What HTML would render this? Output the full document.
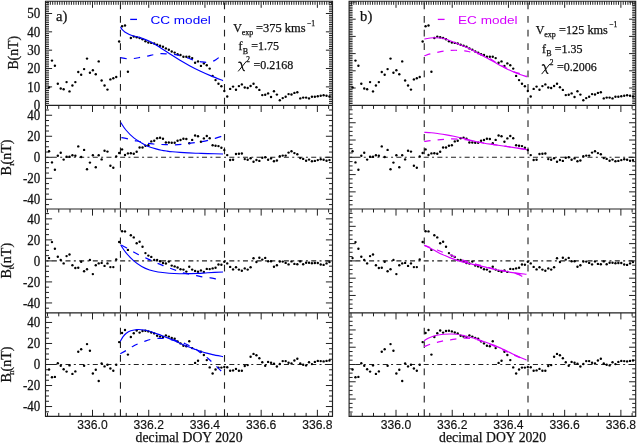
<!DOCTYPE html><html><head><meta charset="utf-8"><title>CC vs EC model</title>
<style>html,body{margin:0;padding:0;background:#fff;}svg{display:block;will-change:transform;}.sf{font-family:"Liberation Serif",serif;stroke:#111;stroke-width:0.25px;}.ss{font-family:"Liberation Sans",sans-serif;}.tk{stroke:#111;stroke-width:0.15px;}</style></head><body>
<svg width="637" height="443" viewBox="0 0 637 443">
<rect width="637" height="443" fill="#fff"/>
<path d="M47.52 105.40L47.52 108.90M58.77 105.40L58.77 108.90M70.01 105.40L70.01 108.90M81.26 105.40L81.26 108.90M92.50 105.40L92.50 112.00M103.74 105.40L103.74 108.90M114.99 105.40L114.99 108.90M126.23 105.40L126.23 108.90M137.48 105.40L137.48 108.90M148.72 105.40L148.72 112.00M159.96 105.40L159.96 108.90M171.21 105.40L171.21 108.90M182.45 105.40L182.45 108.90M193.70 105.40L193.70 108.90M204.94 105.40L204.94 112.00M216.18 105.40L216.18 108.90M227.43 105.40L227.43 108.90M238.67 105.40L238.67 108.90M249.92 105.40L249.92 108.90M261.16 105.40L261.16 112.00M272.40 105.40L272.40 108.90M283.65 105.40L283.65 108.90M294.89 105.40L294.89 108.90M306.14 105.40L306.14 108.90M317.38 105.40L317.38 112.00M328.62 105.40L328.62 108.90M47.52 209.00L47.52 212.50M58.77 209.00L58.77 212.50M70.01 209.00L70.01 212.50M81.26 209.00L81.26 212.50M92.50 209.00L92.50 215.60M103.74 209.00L103.74 212.50M114.99 209.00L114.99 212.50M126.23 209.00L126.23 212.50M137.48 209.00L137.48 212.50M148.72 209.00L148.72 215.60M159.96 209.00L159.96 212.50M171.21 209.00L171.21 212.50M182.45 209.00L182.45 212.50M193.70 209.00L193.70 212.50M204.94 209.00L204.94 215.60M216.18 209.00L216.18 212.50M227.43 209.00L227.43 212.50M238.67 209.00L238.67 212.50M249.92 209.00L249.92 212.50M261.16 209.00L261.16 215.60M272.40 209.00L272.40 212.50M283.65 209.00L283.65 212.50M294.89 209.00L294.89 212.50M306.14 209.00L306.14 212.50M317.38 209.00L317.38 215.60M328.62 209.00L328.62 212.50M47.52 312.85L47.52 316.35M58.77 312.85L58.77 316.35M70.01 312.85L70.01 316.35M81.26 312.85L81.26 316.35M92.50 312.85L92.50 319.45M103.74 312.85L103.74 316.35M114.99 312.85L114.99 316.35M126.23 312.85L126.23 316.35M137.48 312.85L137.48 316.35M148.72 312.85L148.72 319.45M159.96 312.85L159.96 316.35M171.21 312.85L171.21 316.35M182.45 312.85L182.45 316.35M193.70 312.85L193.70 316.35M204.94 312.85L204.94 319.45M216.18 312.85L216.18 316.35M227.43 312.85L227.43 316.35M238.67 312.85L238.67 316.35M249.92 312.85L249.92 316.35M261.16 312.85L261.16 319.45M272.40 312.85L272.40 316.35M283.65 312.85L283.65 316.35M294.89 312.85L294.89 316.35M306.14 312.85L306.14 316.35M317.38 312.85L317.38 319.45M328.62 312.85L328.62 316.35M47.52 416.40L47.52 412.90M58.77 416.40L58.77 412.90M70.01 416.40L70.01 412.90M81.26 416.40L81.26 412.90M92.50 416.40L92.50 409.80M103.74 416.40L103.74 412.90M114.99 416.40L114.99 412.90M126.23 416.40L126.23 412.90M137.48 416.40L137.48 412.90M148.72 416.40L148.72 409.80M159.96 416.40L159.96 412.90M171.21 416.40L171.21 412.90M182.45 416.40L182.45 412.90M193.70 416.40L193.70 412.90M204.94 416.40L204.94 409.80M216.18 416.40L216.18 412.90M227.43 416.40L227.43 412.90M238.67 416.40L238.67 412.90M249.92 416.40L249.92 412.90M261.16 416.40L261.16 409.80M272.40 416.40L272.40 412.90M283.65 416.40L283.65 412.90M294.89 416.40L294.89 412.90M306.14 416.40L306.14 412.90M317.38 416.40L317.38 409.80M328.62 416.40L328.62 412.90M47.99 1.20L47.99 4.80M50.34 1.20L50.34 4.80M52.68 1.20L52.68 4.80M55.02 1.20L55.02 4.80M57.36 1.20L57.36 4.80M59.70 1.20L59.70 4.80M62.05 1.20L62.05 4.80M64.39 1.20L64.39 4.80M66.73 1.20L66.73 4.80M69.08 1.20L69.08 4.80M71.42 1.20L71.42 4.80M73.76 1.20L73.76 4.80M76.10 1.20L76.10 4.80M78.44 1.20L78.44 4.80M80.79 1.20L80.79 4.80M83.13 1.20L83.13 4.80M85.47 1.20L85.47 4.80M87.82 1.20L87.82 4.80M90.16 1.20L90.16 4.80M92.50 1.20L92.50 7.80M94.84 1.20L94.84 4.80M97.18 1.20L97.18 4.80M99.53 1.20L99.53 4.80M101.87 1.20L101.87 4.80M104.21 1.20L104.21 4.80M106.56 1.20L106.56 4.80M108.90 1.20L108.90 4.80M111.24 1.20L111.24 4.80M113.58 1.20L113.58 4.80M115.92 1.20L115.92 4.80M118.27 1.20L118.27 4.80M120.61 1.20L120.61 4.80M122.95 1.20L122.95 4.80M125.30 1.20L125.30 4.80M127.64 1.20L127.64 4.80M129.98 1.20L129.98 4.80M132.32 1.20L132.32 4.80M134.66 1.20L134.66 4.80M137.01 1.20L137.01 4.80M139.35 1.20L139.35 4.80M141.69 1.20L141.69 4.80M144.04 1.20L144.04 4.80M146.38 1.20L146.38 4.80M148.72 1.20L148.72 7.80M151.06 1.20L151.06 4.80M153.40 1.20L153.40 4.80M155.75 1.20L155.75 4.80M158.09 1.20L158.09 4.80M160.43 1.20L160.43 4.80M162.78 1.20L162.78 4.80M165.12 1.20L165.12 4.80M167.46 1.20L167.46 4.80M169.80 1.20L169.80 4.80M172.15 1.20L172.15 4.80M174.49 1.20L174.49 4.80M176.83 1.20L176.83 4.80M179.17 1.20L179.17 4.80M181.51 1.20L181.51 4.80M183.86 1.20L183.86 4.80M186.20 1.20L186.20 4.80M188.54 1.20L188.54 4.80M190.89 1.20L190.89 4.80M193.23 1.20L193.23 4.80M195.57 1.20L195.57 4.80M197.91 1.20L197.91 4.80M200.25 1.20L200.25 4.80M202.60 1.20L202.60 4.80M204.94 1.20L204.94 7.80M207.28 1.20L207.28 4.80M209.63 1.20L209.63 4.80M211.97 1.20L211.97 4.80M214.31 1.20L214.31 4.80M216.65 1.20L216.65 4.80M218.99 1.20L218.99 4.80M221.34 1.20L221.34 4.80M223.68 1.20L223.68 4.80M226.02 1.20L226.02 4.80M228.37 1.20L228.37 4.80M230.71 1.20L230.71 4.80M233.05 1.20L233.05 4.80M235.39 1.20L235.39 4.80M237.73 1.20L237.73 4.80M240.08 1.20L240.08 4.80M242.42 1.20L242.42 4.80M244.76 1.20L244.76 4.80M247.11 1.20L247.11 4.80M249.45 1.20L249.45 4.80M251.79 1.20L251.79 4.80M254.13 1.20L254.13 4.80M256.47 1.20L256.47 4.80M258.82 1.20L258.82 4.80M261.16 1.20L261.16 7.80M263.50 1.20L263.50 4.80M265.85 1.20L265.85 4.80M268.19 1.20L268.19 4.80M270.53 1.20L270.53 4.80M272.87 1.20L272.87 4.80M275.21 1.20L275.21 4.80M277.56 1.20L277.56 4.80M279.90 1.20L279.90 4.80M282.24 1.20L282.24 4.80M284.59 1.20L284.59 4.80M286.93 1.20L286.93 4.80M289.27 1.20L289.27 4.80M291.61 1.20L291.61 4.80M293.95 1.20L293.95 4.80M296.30 1.20L296.30 4.80M298.64 1.20L298.64 4.80M300.98 1.20L300.98 4.80M303.33 1.20L303.33 4.80M305.67 1.20L305.67 4.80M308.01 1.20L308.01 4.80M310.35 1.20L310.35 4.80M312.70 1.20L312.70 4.80M315.04 1.20L315.04 4.80M317.38 1.20L317.38 7.80M319.72 1.20L319.72 4.80M322.06 1.20L322.06 4.80M324.41 1.20L324.41 4.80M326.75 1.20L326.75 4.80M329.09 1.20L329.09 4.80M331.44 1.20L331.44 4.80M45.50 103.37L49.00 103.37M332.50 103.37L329.00 103.37M45.50 101.53L49.00 101.53M332.50 101.53L329.00 101.53M45.50 99.70L49.00 99.70M332.50 99.70L329.00 99.70M45.50 97.86L49.00 97.86M332.50 97.86L329.00 97.86M45.50 96.03L49.00 96.03M332.50 96.03L329.00 96.03M45.50 94.20L49.00 94.20M332.50 94.20L329.00 94.20M45.50 92.36L49.00 92.36M332.50 92.36L329.00 92.36M45.50 90.53L49.00 90.53M332.50 90.53L329.00 90.53M45.50 88.69L49.00 88.69M332.50 88.69L329.00 88.69M45.50 86.86L52.10 86.86M332.50 86.86L325.90 86.86M45.50 85.03L49.00 85.03M332.50 85.03L329.00 85.03M45.50 83.19L49.00 83.19M332.50 83.19L329.00 83.19M45.50 81.36L49.00 81.36M332.50 81.36L329.00 81.36M45.50 79.52L49.00 79.52M332.50 79.52L329.00 79.52M45.50 77.69L49.00 77.69M332.50 77.69L329.00 77.69M45.50 75.86L49.00 75.86M332.50 75.86L329.00 75.86M45.50 74.02L49.00 74.02M332.50 74.02L329.00 74.02M45.50 72.19L49.00 72.19M332.50 72.19L329.00 72.19M45.50 70.35L49.00 70.35M332.50 70.35L329.00 70.35M45.50 68.52L52.10 68.52M332.50 68.52L325.90 68.52M45.50 66.69L49.00 66.69M332.50 66.69L329.00 66.69M45.50 64.85L49.00 64.85M332.50 64.85L329.00 64.85M45.50 63.02L49.00 63.02M332.50 63.02L329.00 63.02M45.50 61.18L49.00 61.18M332.50 61.18L329.00 61.18M45.50 59.35L49.00 59.35M332.50 59.35L329.00 59.35M45.50 57.52L49.00 57.52M332.50 57.52L329.00 57.52M45.50 55.68L49.00 55.68M332.50 55.68L329.00 55.68M45.50 53.85L49.00 53.85M332.50 53.85L329.00 53.85M45.50 52.01L49.00 52.01M332.50 52.01L329.00 52.01M45.50 50.18L52.10 50.18M332.50 50.18L325.90 50.18M45.50 48.35L49.00 48.35M332.50 48.35L329.00 48.35M45.50 46.51L49.00 46.51M332.50 46.51L329.00 46.51M45.50 44.68L49.00 44.68M332.50 44.68L329.00 44.68M45.50 42.84L49.00 42.84M332.50 42.84L329.00 42.84M45.50 41.01L49.00 41.01M332.50 41.01L329.00 41.01M45.50 39.18L49.00 39.18M332.50 39.18L329.00 39.18M45.50 37.34L49.00 37.34M332.50 37.34L329.00 37.34M45.50 35.51L49.00 35.51M332.50 35.51L329.00 35.51M45.50 33.67L49.00 33.67M332.50 33.67L329.00 33.67M45.50 31.84L52.10 31.84M332.50 31.84L325.90 31.84M45.50 30.01L49.00 30.01M332.50 30.01L329.00 30.01M45.50 28.17L49.00 28.17M332.50 28.17L329.00 28.17M45.50 26.34L49.00 26.34M332.50 26.34L329.00 26.34M45.50 24.50L49.00 24.50M332.50 24.50L329.00 24.50M45.50 22.67L49.00 22.67M332.50 22.67L329.00 22.67M45.50 20.84L49.00 20.84M332.50 20.84L329.00 20.84M45.50 19.00L49.00 19.00M332.50 19.00L329.00 19.00M45.50 17.17L49.00 17.17M332.50 17.17L329.00 17.17M45.50 15.33L49.00 15.33M332.50 15.33L329.00 15.33M45.50 13.50L52.10 13.50M332.50 13.50L325.90 13.50M45.50 11.67L49.00 11.67M332.50 11.67L329.00 11.67M45.50 9.83L49.00 9.83M332.50 9.83L329.00 9.83M45.50 8.00L49.00 8.00M332.50 8.00L329.00 8.00M45.50 6.16L49.00 6.16M332.50 6.16L329.00 6.16M45.50 4.33L49.00 4.33M332.50 4.33L329.00 4.33M45.50 2.50L49.00 2.50M332.50 2.50L329.00 2.50M45.50 204.59L49.00 204.59M332.50 204.59L329.00 204.59M45.50 199.34L52.10 199.34M332.50 199.34L325.90 199.34M45.50 194.09L49.00 194.09M332.50 194.09L329.00 194.09M45.50 188.83L49.00 188.83M332.50 188.83L329.00 188.83M45.50 183.58L49.00 183.58M332.50 183.58L329.00 183.58M45.50 178.32L52.10 178.32M332.50 178.32L325.90 178.32M45.50 173.06L49.00 173.06M332.50 173.06L329.00 173.06M45.50 167.81L49.00 167.81M332.50 167.81L329.00 167.81M45.50 162.56L49.00 162.56M332.50 162.56L329.00 162.56M45.50 157.30L52.10 157.30M332.50 157.30L325.90 157.30M45.50 152.05L49.00 152.05M332.50 152.05L329.00 152.05M45.50 146.79L49.00 146.79M332.50 146.79L329.00 146.79M45.50 141.54L49.00 141.54M332.50 141.54L329.00 141.54M45.50 136.28L52.10 136.28M332.50 136.28L325.90 136.28M45.50 131.03L49.00 131.03M332.50 131.03L329.00 131.03M45.50 125.77L49.00 125.77M332.50 125.77L329.00 125.77M45.50 120.52L49.00 120.52M332.50 120.52L329.00 120.52M45.50 115.26L52.10 115.26M332.50 115.26L325.90 115.26M45.50 110.01L49.00 110.01M332.50 110.01L329.00 110.01M45.50 308.19L49.00 308.19M332.50 308.19L329.00 308.19M45.50 302.94L52.10 302.94M332.50 302.94L325.90 302.94M45.50 297.68L49.00 297.68M332.50 297.68L329.00 297.68M45.50 292.43L49.00 292.43M332.50 292.43L329.00 292.43M45.50 287.17L49.00 287.17M332.50 287.17L329.00 287.17M45.50 281.92L52.10 281.92M332.50 281.92L325.90 281.92M45.50 276.66L49.00 276.66M332.50 276.66L329.00 276.66M45.50 271.41L49.00 271.41M332.50 271.41L329.00 271.41M45.50 266.15L49.00 266.15M332.50 266.15L329.00 266.15M45.50 260.90L52.10 260.90M332.50 260.90L325.90 260.90M45.50 255.64L49.00 255.64M332.50 255.64L329.00 255.64M45.50 250.39L49.00 250.39M332.50 250.39L329.00 250.39M45.50 245.13L49.00 245.13M332.50 245.13L329.00 245.13M45.50 239.88L52.10 239.88M332.50 239.88L325.90 239.88M45.50 234.62L49.00 234.62M332.50 234.62L329.00 234.62M45.50 229.37L49.00 229.37M332.50 229.37L329.00 229.37M45.50 224.11L49.00 224.11M332.50 224.11L329.00 224.11M45.50 218.86L52.10 218.86M332.50 218.86L325.90 218.86M45.50 213.60L49.00 213.60M332.50 213.60L329.00 213.60M45.50 411.80L49.00 411.80M332.50 411.80L329.00 411.80M45.50 406.54L52.10 406.54M332.50 406.54L325.90 406.54M45.50 401.28L49.00 401.28M332.50 401.28L329.00 401.28M45.50 396.03L49.00 396.03M332.50 396.03L329.00 396.03M45.50 390.77L49.00 390.77M332.50 390.77L329.00 390.77M45.50 385.52L52.10 385.52M332.50 385.52L325.90 385.52M45.50 380.26L49.00 380.26M332.50 380.26L329.00 380.26M45.50 375.01L49.00 375.01M332.50 375.01L329.00 375.01M45.50 369.75L49.00 369.75M332.50 369.75L329.00 369.75M45.50 364.50L52.10 364.50M332.50 364.50L325.90 364.50M45.50 359.25L49.00 359.25M332.50 359.25L329.00 359.25M45.50 353.99L49.00 353.99M332.50 353.99L329.00 353.99M45.50 348.74L49.00 348.74M332.50 348.74L329.00 348.74M45.50 343.48L52.10 343.48M332.50 343.48L325.90 343.48M45.50 338.23L49.00 338.23M332.50 338.23L329.00 338.23M45.50 332.97L49.00 332.97M332.50 332.97L329.00 332.97M45.50 327.72L49.00 327.72M332.50 327.72L329.00 327.72M45.50 322.46L52.10 322.46M332.50 322.46L325.90 322.46M45.50 317.20L49.00 317.20M332.50 317.20L329.00 317.20" stroke="#222" stroke-width="1.00" fill="none"/>
<path d="M45.50 1.20H332.50V416.40H45.50ZM45.50 105.40H332.50M45.50 209.00H332.50M45.50 312.85H332.50" stroke="#222" stroke-width="1.15" fill="none"/>
<text class="sf" transform="translate(40.2 91.56) scale(1 1.06)" font-size="13" text-anchor="end" fill="#111">10</text>
<text class="sf" transform="translate(40.2 73.22) scale(1 1.06)" font-size="13" text-anchor="end" fill="#111">20</text>
<text class="sf" transform="translate(40.2 54.88) scale(1 1.06)" font-size="13" text-anchor="end" fill="#111">30</text>
<text class="sf" transform="translate(40.2 36.54) scale(1 1.06)" font-size="13" text-anchor="end" fill="#111">40</text>
<text class="sf" transform="translate(40.2 18.20) scale(1 1.06)" font-size="13" text-anchor="end" fill="#111">50</text>
<text class="sf" transform="translate(40.2 109.90) scale(1 1.06)" font-size="13" text-anchor="end" fill="#111">0</text>
<text class="sf" transform="translate(40.2 204.04) scale(1 1.06)" font-size="13" text-anchor="end" fill="#111">-40</text>
<text class="sf" transform="translate(40.2 183.02) scale(1 1.06)" font-size="13" text-anchor="end" fill="#111">-20</text>
<text class="sf" transform="translate(40.2 162.00) scale(1 1.06)" font-size="13" text-anchor="end" fill="#111">0</text>
<text class="sf" transform="translate(40.2 140.98) scale(1 1.06)" font-size="13" text-anchor="end" fill="#111">20</text>
<text class="sf" transform="translate(40.2 119.96) scale(1 1.06)" font-size="13" text-anchor="end" fill="#111">40</text>
<text class="sf" transform="translate(40.2 307.64) scale(1 1.06)" font-size="13" text-anchor="end" fill="#111">-40</text>
<text class="sf" transform="translate(40.2 286.62) scale(1 1.06)" font-size="13" text-anchor="end" fill="#111">-20</text>
<text class="sf" transform="translate(40.2 265.60) scale(1 1.06)" font-size="13" text-anchor="end" fill="#111">0</text>
<text class="sf" transform="translate(40.2 244.58) scale(1 1.06)" font-size="13" text-anchor="end" fill="#111">20</text>
<text class="sf" transform="translate(40.2 223.56) scale(1 1.06)" font-size="13" text-anchor="end" fill="#111">40</text>
<text class="sf" transform="translate(40.2 411.24) scale(1 1.06)" font-size="13" text-anchor="end" fill="#111">-40</text>
<text class="sf" transform="translate(40.2 390.22) scale(1 1.06)" font-size="13" text-anchor="end" fill="#111">-20</text>
<text class="sf" transform="translate(40.2 369.20) scale(1 1.06)" font-size="13" text-anchor="end" fill="#111">0</text>
<text class="sf" transform="translate(40.2 348.18) scale(1 1.06)" font-size="13" text-anchor="end" fill="#111">20</text>
<text class="sf" transform="translate(40.2 327.16) scale(1 1.06)" font-size="13" text-anchor="end" fill="#111">40</text>
<path d="M351.02 105.40L351.02 108.90M362.27 105.40L362.27 108.90M373.51 105.40L373.51 108.90M384.76 105.40L384.76 108.90M396.00 105.40L396.00 112.00M407.24 105.40L407.24 108.90M418.49 105.40L418.49 108.90M429.73 105.40L429.73 108.90M440.98 105.40L440.98 108.90M452.22 105.40L452.22 112.00M463.46 105.40L463.46 108.90M474.71 105.40L474.71 108.90M485.95 105.40L485.95 108.90M497.20 105.40L497.20 108.90M508.44 105.40L508.44 112.00M519.68 105.40L519.68 108.90M530.93 105.40L530.93 108.90M542.17 105.40L542.17 108.90M553.42 105.40L553.42 108.90M564.66 105.40L564.66 112.00M575.90 105.40L575.90 108.90M587.15 105.40L587.15 108.90M598.39 105.40L598.39 108.90M609.64 105.40L609.64 108.90M620.88 105.40L620.88 112.00M632.12 105.40L632.12 108.90M351.02 209.00L351.02 212.50M362.27 209.00L362.27 212.50M373.51 209.00L373.51 212.50M384.76 209.00L384.76 212.50M396.00 209.00L396.00 215.60M407.24 209.00L407.24 212.50M418.49 209.00L418.49 212.50M429.73 209.00L429.73 212.50M440.98 209.00L440.98 212.50M452.22 209.00L452.22 215.60M463.46 209.00L463.46 212.50M474.71 209.00L474.71 212.50M485.95 209.00L485.95 212.50M497.20 209.00L497.20 212.50M508.44 209.00L508.44 215.60M519.68 209.00L519.68 212.50M530.93 209.00L530.93 212.50M542.17 209.00L542.17 212.50M553.42 209.00L553.42 212.50M564.66 209.00L564.66 215.60M575.90 209.00L575.90 212.50M587.15 209.00L587.15 212.50M598.39 209.00L598.39 212.50M609.64 209.00L609.64 212.50M620.88 209.00L620.88 215.60M632.12 209.00L632.12 212.50M351.02 312.85L351.02 316.35M362.27 312.85L362.27 316.35M373.51 312.85L373.51 316.35M384.76 312.85L384.76 316.35M396.00 312.85L396.00 319.45M407.24 312.85L407.24 316.35M418.49 312.85L418.49 316.35M429.73 312.85L429.73 316.35M440.98 312.85L440.98 316.35M452.22 312.85L452.22 319.45M463.46 312.85L463.46 316.35M474.71 312.85L474.71 316.35M485.95 312.85L485.95 316.35M497.20 312.85L497.20 316.35M508.44 312.85L508.44 319.45M519.68 312.85L519.68 316.35M530.93 312.85L530.93 316.35M542.17 312.85L542.17 316.35M553.42 312.85L553.42 316.35M564.66 312.85L564.66 319.45M575.90 312.85L575.90 316.35M587.15 312.85L587.15 316.35M598.39 312.85L598.39 316.35M609.64 312.85L609.64 316.35M620.88 312.85L620.88 319.45M632.12 312.85L632.12 316.35M351.02 416.40L351.02 412.90M362.27 416.40L362.27 412.90M373.51 416.40L373.51 412.90M384.76 416.40L384.76 412.90M396.00 416.40L396.00 409.80M407.24 416.40L407.24 412.90M418.49 416.40L418.49 412.90M429.73 416.40L429.73 412.90M440.98 416.40L440.98 412.90M452.22 416.40L452.22 409.80M463.46 416.40L463.46 412.90M474.71 416.40L474.71 412.90M485.95 416.40L485.95 412.90M497.20 416.40L497.20 412.90M508.44 416.40L508.44 409.80M519.68 416.40L519.68 412.90M530.93 416.40L530.93 412.90M542.17 416.40L542.17 412.90M553.42 416.40L553.42 412.90M564.66 416.40L564.66 409.80M575.90 416.40L575.90 412.90M587.15 416.40L587.15 412.90M598.39 416.40L598.39 412.90M609.64 416.40L609.64 412.90M620.88 416.40L620.88 409.80M632.12 416.40L632.12 412.90M351.49 1.20L351.49 4.80M353.84 1.20L353.84 4.80M356.18 1.20L356.18 4.80M358.52 1.20L358.52 4.80M360.86 1.20L360.86 4.80M363.20 1.20L363.20 4.80M365.55 1.20L365.55 4.80M367.89 1.20L367.89 4.80M370.23 1.20L370.23 4.80M372.58 1.20L372.58 4.80M374.92 1.20L374.92 4.80M377.26 1.20L377.26 4.80M379.60 1.20L379.60 4.80M381.94 1.20L381.94 4.80M384.29 1.20L384.29 4.80M386.63 1.20L386.63 4.80M388.97 1.20L388.97 4.80M391.32 1.20L391.32 4.80M393.66 1.20L393.66 4.80M396.00 1.20L396.00 7.80M398.34 1.20L398.34 4.80M400.68 1.20L400.68 4.80M403.03 1.20L403.03 4.80M405.37 1.20L405.37 4.80M407.71 1.20L407.71 4.80M410.06 1.20L410.06 4.80M412.40 1.20L412.40 4.80M414.74 1.20L414.74 4.80M417.08 1.20L417.08 4.80M419.42 1.20L419.42 4.80M421.77 1.20L421.77 4.80M424.11 1.20L424.11 4.80M426.45 1.20L426.45 4.80M428.80 1.20L428.80 4.80M431.14 1.20L431.14 4.80M433.48 1.20L433.48 4.80M435.82 1.20L435.82 4.80M438.16 1.20L438.16 4.80M440.51 1.20L440.51 4.80M442.85 1.20L442.85 4.80M445.19 1.20L445.19 4.80M447.54 1.20L447.54 4.80M449.88 1.20L449.88 4.80M452.22 1.20L452.22 7.80M454.56 1.20L454.56 4.80M456.90 1.20L456.90 4.80M459.25 1.20L459.25 4.80M461.59 1.20L461.59 4.80M463.93 1.20L463.93 4.80M466.27 1.20L466.27 4.80M468.62 1.20L468.62 4.80M470.96 1.20L470.96 4.80M473.30 1.20L473.30 4.80M475.65 1.20L475.65 4.80M477.99 1.20L477.99 4.80M480.33 1.20L480.33 4.80M482.67 1.20L482.67 4.80M485.01 1.20L485.01 4.80M487.36 1.20L487.36 4.80M489.70 1.20L489.70 4.80M492.04 1.20L492.04 4.80M494.39 1.20L494.39 4.80M496.73 1.20L496.73 4.80M499.07 1.20L499.07 4.80M501.41 1.20L501.41 4.80M503.75 1.20L503.75 4.80M506.10 1.20L506.10 4.80M508.44 1.20L508.44 7.80M510.78 1.20L510.78 4.80M513.13 1.20L513.13 4.80M515.47 1.20L515.47 4.80M517.81 1.20L517.81 4.80M520.15 1.20L520.15 4.80M522.49 1.20L522.49 4.80M524.84 1.20L524.84 4.80M527.18 1.20L527.18 4.80M529.52 1.20L529.52 4.80M531.87 1.20L531.87 4.80M534.21 1.20L534.21 4.80M536.55 1.20L536.55 4.80M538.89 1.20L538.89 4.80M541.23 1.20L541.23 4.80M543.58 1.20L543.58 4.80M545.92 1.20L545.92 4.80M548.26 1.20L548.26 4.80M550.61 1.20L550.61 4.80M552.95 1.20L552.95 4.80M555.29 1.20L555.29 4.80M557.63 1.20L557.63 4.80M559.97 1.20L559.97 4.80M562.32 1.20L562.32 4.80M564.66 1.20L564.66 7.80M567.00 1.20L567.00 4.80M569.35 1.20L569.35 4.80M571.69 1.20L571.69 4.80M574.03 1.20L574.03 4.80M576.37 1.20L576.37 4.80M578.71 1.20L578.71 4.80M581.06 1.20L581.06 4.80M583.40 1.20L583.40 4.80M585.74 1.20L585.74 4.80M588.09 1.20L588.09 4.80M590.43 1.20L590.43 4.80M592.77 1.20L592.77 4.80M595.11 1.20L595.11 4.80M597.45 1.20L597.45 4.80M599.80 1.20L599.80 4.80M602.14 1.20L602.14 4.80M604.48 1.20L604.48 4.80M606.83 1.20L606.83 4.80M609.17 1.20L609.17 4.80M611.51 1.20L611.51 4.80M613.85 1.20L613.85 4.80M616.20 1.20L616.20 4.80M618.54 1.20L618.54 4.80M620.88 1.20L620.88 7.80M623.22 1.20L623.22 4.80M625.56 1.20L625.56 4.80M627.91 1.20L627.91 4.80M630.25 1.20L630.25 4.80M632.59 1.20L632.59 4.80M634.94 1.20L634.94 4.80M349.10 103.48L352.60 103.48M635.70 103.48L632.20 103.48M349.10 101.76L352.60 101.76M635.70 101.76L632.20 101.76M349.10 100.04L352.60 100.04M635.70 100.04L632.20 100.04M349.10 98.32L352.60 98.32M635.70 98.32L632.20 98.32M349.10 96.60L352.60 96.60M635.70 96.60L632.20 96.60M349.10 94.88L352.60 94.88M635.70 94.88L632.20 94.88M349.10 93.16L352.60 93.16M635.70 93.16L632.20 93.16M349.10 91.44L352.60 91.44M635.70 91.44L632.20 91.44M349.10 89.72L352.60 89.72M635.70 89.72L632.20 89.72M349.10 88.00L355.70 88.00M635.70 88.00L629.10 88.00M349.10 86.28L352.60 86.28M635.70 86.28L632.20 86.28M349.10 84.56L352.60 84.56M635.70 84.56L632.20 84.56M349.10 82.84L352.60 82.84M635.70 82.84L632.20 82.84M349.10 81.12L352.60 81.12M635.70 81.12L632.20 81.12M349.10 79.40L352.60 79.40M635.70 79.40L632.20 79.40M349.10 77.68L352.60 77.68M635.70 77.68L632.20 77.68M349.10 75.96L352.60 75.96M635.70 75.96L632.20 75.96M349.10 74.24L352.60 74.24M635.70 74.24L632.20 74.24M349.10 72.52L352.60 72.52M635.70 72.52L632.20 72.52M349.10 70.80L355.70 70.80M635.70 70.80L629.10 70.80M349.10 69.08L352.60 69.08M635.70 69.08L632.20 69.08M349.10 67.36L352.60 67.36M635.70 67.36L632.20 67.36M349.10 65.64L352.60 65.64M635.70 65.64L632.20 65.64M349.10 63.92L352.60 63.92M635.70 63.92L632.20 63.92M349.10 62.20L352.60 62.20M635.70 62.20L632.20 62.20M349.10 60.48L352.60 60.48M635.70 60.48L632.20 60.48M349.10 58.76L352.60 58.76M635.70 58.76L632.20 58.76M349.10 57.04L352.60 57.04M635.70 57.04L632.20 57.04M349.10 55.32L352.60 55.32M635.70 55.32L632.20 55.32M349.10 53.60L355.70 53.60M635.70 53.60L629.10 53.60M349.10 51.88L352.60 51.88M635.70 51.88L632.20 51.88M349.10 50.16L352.60 50.16M635.70 50.16L632.20 50.16M349.10 48.44L352.60 48.44M635.70 48.44L632.20 48.44M349.10 46.72L352.60 46.72M635.70 46.72L632.20 46.72M349.10 45.00L352.60 45.00M635.70 45.00L632.20 45.00M349.10 43.28L352.60 43.28M635.70 43.28L632.20 43.28M349.10 41.56L352.60 41.56M635.70 41.56L632.20 41.56M349.10 39.84L352.60 39.84M635.70 39.84L632.20 39.84M349.10 38.12L352.60 38.12M635.70 38.12L632.20 38.12M349.10 36.40L355.70 36.40M635.70 36.40L629.10 36.40M349.10 34.68L352.60 34.68M635.70 34.68L632.20 34.68M349.10 32.96L352.60 32.96M635.70 32.96L632.20 32.96M349.10 31.24L352.60 31.24M635.70 31.24L632.20 31.24M349.10 29.52L352.60 29.52M635.70 29.52L632.20 29.52M349.10 27.80L352.60 27.80M635.70 27.80L632.20 27.80M349.10 26.08L352.60 26.08M635.70 26.08L632.20 26.08M349.10 24.36L352.60 24.36M635.70 24.36L632.20 24.36M349.10 22.64L352.60 22.64M635.70 22.64L632.20 22.64M349.10 20.92L352.60 20.92M635.70 20.92L632.20 20.92M349.10 19.20L355.70 19.20M635.70 19.20L629.10 19.20M349.10 17.48L352.60 17.48M635.70 17.48L632.20 17.48M349.10 15.76L352.60 15.76M635.70 15.76L632.20 15.76M349.10 14.04L352.60 14.04M635.70 14.04L632.20 14.04M349.10 12.32L352.60 12.32M635.70 12.32L632.20 12.32M349.10 10.60L352.60 10.60M635.70 10.60L632.20 10.60M349.10 8.88L352.60 8.88M635.70 8.88L632.20 8.88M349.10 7.16L352.60 7.16M635.70 7.16L632.20 7.16M349.10 5.44L352.60 5.44M635.70 5.44L632.20 5.44M349.10 3.72L352.60 3.72M635.70 3.72L632.20 3.72M349.10 2.00L355.70 2.00M635.70 2.00L629.10 2.00M349.10 204.82L352.60 204.82M635.70 204.82L632.20 204.82M349.10 200.50L352.60 200.50M635.70 200.50L632.20 200.50M349.10 196.18L352.60 196.18M635.70 196.18L632.20 196.18M349.10 191.86L355.70 191.86M635.70 191.86L629.10 191.86M349.10 187.54L352.60 187.54M635.70 187.54L632.20 187.54M349.10 183.22L352.60 183.22M635.70 183.22L632.20 183.22M349.10 178.90L352.60 178.90M635.70 178.90L632.20 178.90M349.10 174.58L355.70 174.58M635.70 174.58L629.10 174.58M349.10 170.26L352.60 170.26M635.70 170.26L632.20 170.26M349.10 165.94L352.60 165.94M635.70 165.94L632.20 165.94M349.10 161.62L352.60 161.62M635.70 161.62L632.20 161.62M349.10 157.30L355.70 157.30M635.70 157.30L629.10 157.30M349.10 152.98L352.60 152.98M635.70 152.98L632.20 152.98M349.10 148.66L352.60 148.66M635.70 148.66L632.20 148.66M349.10 144.34L352.60 144.34M635.70 144.34L632.20 144.34M349.10 140.02L355.70 140.02M635.70 140.02L629.10 140.02M349.10 135.70L352.60 135.70M635.70 135.70L632.20 135.70M349.10 131.38L352.60 131.38M635.70 131.38L632.20 131.38M349.10 127.06L352.60 127.06M635.70 127.06L632.20 127.06M349.10 122.74L355.70 122.74M635.70 122.74L629.10 122.74M349.10 118.42L352.60 118.42M635.70 118.42L632.20 118.42M349.10 114.10L352.60 114.10M635.70 114.10L632.20 114.10M349.10 109.78L352.60 109.78M635.70 109.78L632.20 109.78M349.10 308.42L352.60 308.42M635.70 308.42L632.20 308.42M349.10 304.10L352.60 304.10M635.70 304.10L632.20 304.10M349.10 299.78L352.60 299.78M635.70 299.78L632.20 299.78M349.10 295.46L355.70 295.46M635.70 295.46L629.10 295.46M349.10 291.14L352.60 291.14M635.70 291.14L632.20 291.14M349.10 286.82L352.60 286.82M635.70 286.82L632.20 286.82M349.10 282.50L352.60 282.50M635.70 282.50L632.20 282.50M349.10 278.18L355.70 278.18M635.70 278.18L629.10 278.18M349.10 273.86L352.60 273.86M635.70 273.86L632.20 273.86M349.10 269.54L352.60 269.54M635.70 269.54L632.20 269.54M349.10 265.22L352.60 265.22M635.70 265.22L632.20 265.22M349.10 260.90L355.70 260.90M635.70 260.90L629.10 260.90M349.10 256.58L352.60 256.58M635.70 256.58L632.20 256.58M349.10 252.26L352.60 252.26M635.70 252.26L632.20 252.26M349.10 247.94L352.60 247.94M635.70 247.94L632.20 247.94M349.10 243.62L355.70 243.62M635.70 243.62L629.10 243.62M349.10 239.30L352.60 239.30M635.70 239.30L632.20 239.30M349.10 234.98L352.60 234.98M635.70 234.98L632.20 234.98M349.10 230.66L352.60 230.66M635.70 230.66L632.20 230.66M349.10 226.34L355.70 226.34M635.70 226.34L629.10 226.34M349.10 222.02L352.60 222.02M635.70 222.02L632.20 222.02M349.10 217.70L352.60 217.70M635.70 217.70L632.20 217.70M349.10 213.38L352.60 213.38M635.70 213.38L632.20 213.38M349.10 412.02L352.60 412.02M635.70 412.02L632.20 412.02M349.10 407.70L352.60 407.70M635.70 407.70L632.20 407.70M349.10 403.38L352.60 403.38M635.70 403.38L632.20 403.38M349.10 399.06L355.70 399.06M635.70 399.06L629.10 399.06M349.10 394.74L352.60 394.74M635.70 394.74L632.20 394.74M349.10 390.42L352.60 390.42M635.70 390.42L632.20 390.42M349.10 386.10L352.60 386.10M635.70 386.10L632.20 386.10M349.10 381.78L355.70 381.78M635.70 381.78L629.10 381.78M349.10 377.46L352.60 377.46M635.70 377.46L632.20 377.46M349.10 373.14L352.60 373.14M635.70 373.14L632.20 373.14M349.10 368.82L352.60 368.82M635.70 368.82L632.20 368.82M349.10 364.50L355.70 364.50M635.70 364.50L629.10 364.50M349.10 360.18L352.60 360.18M635.70 360.18L632.20 360.18M349.10 355.86L352.60 355.86M635.70 355.86L632.20 355.86M349.10 351.54L352.60 351.54M635.70 351.54L632.20 351.54M349.10 347.22L355.70 347.22M635.70 347.22L629.10 347.22M349.10 342.90L352.60 342.90M635.70 342.90L632.20 342.90M349.10 338.58L352.60 338.58M635.70 338.58L632.20 338.58M349.10 334.26L352.60 334.26M635.70 334.26L632.20 334.26M349.10 329.94L355.70 329.94M635.70 329.94L629.10 329.94M349.10 325.62L352.60 325.62M635.70 325.62L632.20 325.62M349.10 321.30L352.60 321.30M635.70 321.30L632.20 321.30M349.10 316.98L352.60 316.98M635.70 316.98L632.20 316.98" stroke="#222" stroke-width="1.00" fill="none"/>
<path d="M349.10 1.20H635.70V416.40H349.10ZM349.10 105.40H635.70M349.10 209.00H635.70M349.10 312.85H635.70" stroke="#222" stroke-width="1.15" fill="none"/>
<line x1="45.50" y1="157.30" x2="332.50" y2="157.30" stroke="#222" stroke-width="1.1" stroke-dasharray="5 3.33 2 3.32" stroke-dashoffset="7.3"/>
<line x1="45.50" y1="260.90" x2="332.50" y2="260.90" stroke="#222" stroke-width="1.1" stroke-dasharray="5 3.33 2 3.32" stroke-dashoffset="7.3"/>
<line x1="45.50" y1="364.50" x2="332.50" y2="364.50" stroke="#222" stroke-width="1.1" stroke-dasharray="5 3.33 2 3.32" stroke-dashoffset="7.3"/>
<line x1="120.45" y1="1.20" x2="120.45" y2="105.40" stroke="#222" stroke-width="1.1" stroke-dasharray="6.7 6.9" stroke-dashoffset="-1.3"/>
<line x1="120.45" y1="105.40" x2="120.45" y2="209.00" stroke="#222" stroke-width="1.1" stroke-dasharray="6.7 6.9" stroke-dashoffset="-1.3"/>
<line x1="120.45" y1="209.00" x2="120.45" y2="312.85" stroke="#222" stroke-width="1.1" stroke-dasharray="6.7 6.9" stroke-dashoffset="-1.3"/>
<line x1="120.45" y1="312.85" x2="120.45" y2="416.40" stroke="#222" stroke-width="1.1" stroke-dasharray="6.7 6.9" stroke-dashoffset="-1.3"/>
<line x1="224.50" y1="1.20" x2="224.50" y2="105.40" stroke="#222" stroke-width="1.1" stroke-dasharray="6.7 6.9" stroke-dashoffset="-1.3"/>
<line x1="224.50" y1="105.40" x2="224.50" y2="209.00" stroke="#222" stroke-width="1.1" stroke-dasharray="6.7 6.9" stroke-dashoffset="-1.3"/>
<line x1="224.50" y1="209.00" x2="224.50" y2="312.85" stroke="#222" stroke-width="1.1" stroke-dasharray="6.7 6.9" stroke-dashoffset="-1.3"/>
<line x1="224.50" y1="312.85" x2="224.50" y2="416.40" stroke="#222" stroke-width="1.1" stroke-dasharray="6.7 6.9" stroke-dashoffset="-1.3"/>
<line x1="349.10" y1="157.30" x2="635.70" y2="157.30" stroke="#222" stroke-width="1.1" stroke-dasharray="5 3.33 2 3.32" stroke-dashoffset="7.3"/>
<line x1="349.10" y1="260.90" x2="635.70" y2="260.90" stroke="#222" stroke-width="1.1" stroke-dasharray="5 3.33 2 3.32" stroke-dashoffset="7.3"/>
<line x1="349.10" y1="364.50" x2="635.70" y2="364.50" stroke="#222" stroke-width="1.1" stroke-dasharray="5 3.33 2 3.32" stroke-dashoffset="7.3"/>
<line x1="424.25" y1="1.20" x2="424.25" y2="105.40" stroke="#222" stroke-width="1.1" stroke-dasharray="6.7 6.9" stroke-dashoffset="-1.3"/>
<line x1="424.25" y1="105.40" x2="424.25" y2="209.00" stroke="#222" stroke-width="1.1" stroke-dasharray="6.7 6.9" stroke-dashoffset="-1.3"/>
<line x1="424.25" y1="209.00" x2="424.25" y2="312.85" stroke="#222" stroke-width="1.1" stroke-dasharray="6.7 6.9" stroke-dashoffset="-1.3"/>
<line x1="424.25" y1="312.85" x2="424.25" y2="416.40" stroke="#222" stroke-width="1.1" stroke-dasharray="6.7 6.9" stroke-dashoffset="-1.3"/>
<line x1="528.00" y1="1.20" x2="528.00" y2="105.40" stroke="#222" stroke-width="1.1" stroke-dasharray="6.7 6.9" stroke-dashoffset="-1.3"/>
<line x1="528.00" y1="105.40" x2="528.00" y2="209.00" stroke="#222" stroke-width="1.1" stroke-dasharray="6.7 6.9" stroke-dashoffset="-1.3"/>
<line x1="528.00" y1="209.00" x2="528.00" y2="312.85" stroke="#222" stroke-width="1.1" stroke-dasharray="6.7 6.9" stroke-dashoffset="-1.3"/>
<line x1="528.00" y1="312.85" x2="528.00" y2="416.40" stroke="#222" stroke-width="1.1" stroke-dasharray="6.7 6.9" stroke-dashoffset="-1.3"/>
<g fill="#000"><circle cx="49.05" cy="87.40" r="1.2"/><circle cx="51.97" cy="60.60" r="1.2"/><circle cx="54.89" cy="65.70" r="1.2"/><circle cx="57.81" cy="83.80" r="1.2"/><circle cx="60.73" cy="88.50" r="1.2"/><circle cx="63.65" cy="89.20" r="1.2"/><circle cx="66.58" cy="82.10" r="1.2"/><circle cx="69.50" cy="91.40" r="1.2"/><circle cx="72.42" cy="85.50" r="1.2"/><circle cx="75.34" cy="82.10" r="1.2"/><circle cx="78.26" cy="72.00" r="1.2"/><circle cx="81.18" cy="74.70" r="1.2"/><circle cx="84.10" cy="69.10" r="1.2"/><circle cx="87.02" cy="58.60" r="1.2"/><circle cx="89.94" cy="72.70" r="1.2"/><circle cx="92.86" cy="70.20" r="1.2"/><circle cx="95.79" cy="74.20" r="1.2"/><circle cx="98.71" cy="61.40" r="1.2"/><circle cx="101.63" cy="80.50" r="1.2"/><circle cx="104.55" cy="85.50" r="1.2"/><circle cx="107.47" cy="89.60" r="1.2"/><circle cx="110.39" cy="79.40" r="1.2"/><circle cx="113.31" cy="78.20" r="1.2"/><circle cx="116.23" cy="77.00" r="1.2"/><circle cx="119.15" cy="41.50" r="1.2"/><circle cx="122.07" cy="26.20" r="1.2"/><circle cx="125.00" cy="25.50" r="1.2"/><circle cx="127.92" cy="71.80" r="1.2"/><circle cx="130.84" cy="38.00" r="1.2"/><circle cx="133.76" cy="36.60" r="1.2"/><circle cx="136.68" cy="37.20" r="1.2"/><circle cx="139.60" cy="38.00" r="1.2"/><circle cx="142.52" cy="39.30" r="1.2"/><circle cx="145.44" cy="41.30" r="1.2"/><circle cx="148.36" cy="42.50" r="1.2"/><circle cx="151.28" cy="42.90" r="1.2"/><circle cx="154.21" cy="43.50" r="1.2"/><circle cx="157.13" cy="44.80" r="1.2"/><circle cx="160.05" cy="45.70" r="1.2"/><circle cx="162.97" cy="46.70" r="1.2"/><circle cx="165.89" cy="48.40" r="1.2"/><circle cx="168.81" cy="49.80" r="1.2"/><circle cx="171.73" cy="51.50" r="1.2"/><circle cx="174.65" cy="52.60" r="1.2"/><circle cx="177.57" cy="54.30" r="1.2"/><circle cx="180.50" cy="55.00" r="1.2"/><circle cx="183.42" cy="56.80" r="1.2"/><circle cx="186.34" cy="56.80" r="1.2"/><circle cx="189.26" cy="56.70" r="1.2"/><circle cx="192.18" cy="58.10" r="1.2"/><circle cx="195.10" cy="62.80" r="1.2"/><circle cx="198.02" cy="61.40" r="1.2"/><circle cx="200.94" cy="65.90" r="1.2"/><circle cx="203.86" cy="63.40" r="1.2"/><circle cx="206.78" cy="65.30" r="1.2"/><circle cx="209.70" cy="68.60" r="1.2"/><circle cx="212.63" cy="75.90" r="1.2"/><circle cx="215.55" cy="80.10" r="1.2"/><circle cx="218.47" cy="83.70" r="1.2"/><circle cx="221.39" cy="86.30" r="1.2"/><circle cx="224.31" cy="91.00" r="1.2"/><circle cx="227.23" cy="96.50" r="1.2"/><circle cx="230.15" cy="88.90" r="1.2"/><circle cx="233.07" cy="86.60" r="1.2"/><circle cx="235.99" cy="89.80" r="1.2"/><circle cx="238.91" cy="86.10" r="1.2"/><circle cx="241.84" cy="84.40" r="1.2"/><circle cx="244.76" cy="87.50" r="1.2"/><circle cx="247.68" cy="88.00" r="1.2"/><circle cx="250.60" cy="86.00" r="1.2"/><circle cx="253.52" cy="83.80" r="1.2"/><circle cx="256.44" cy="87.20" r="1.2"/><circle cx="259.36" cy="89.90" r="1.2"/><circle cx="262.28" cy="95.10" r="1.2"/><circle cx="265.20" cy="94.80" r="1.2"/><circle cx="268.12" cy="93.40" r="1.2"/><circle cx="271.05" cy="97.00" r="1.2"/><circle cx="273.97" cy="91.20" r="1.2"/><circle cx="276.89" cy="94.60" r="1.2"/><circle cx="279.81" cy="100.20" r="1.2"/><circle cx="282.73" cy="98.10" r="1.2"/><circle cx="285.65" cy="96.80" r="1.2"/><circle cx="288.57" cy="94.10" r="1.2"/><circle cx="291.49" cy="94.50" r="1.2"/><circle cx="294.41" cy="92.90" r="1.2"/><circle cx="297.33" cy="92.20" r="1.2"/><circle cx="300.26" cy="98.40" r="1.2"/><circle cx="303.18" cy="97.60" r="1.2"/><circle cx="306.10" cy="97.60" r="1.2"/><circle cx="309.02" cy="98.40" r="1.2"/><circle cx="311.94" cy="96.80" r="1.2"/><circle cx="314.86" cy="96.70" r="1.2"/><circle cx="317.78" cy="96.20" r="1.2"/><circle cx="320.70" cy="95.70" r="1.2"/><circle cx="323.62" cy="95.20" r="1.2"/><circle cx="326.55" cy="95.70" r="1.2"/><circle cx="329.47" cy="96.50" r="1.2"/><circle cx="49.05" cy="151.20" r="1.2"/><circle cx="51.97" cy="162.40" r="1.2"/><circle cx="54.89" cy="169.70" r="1.2"/><circle cx="57.81" cy="155.80" r="1.2"/><circle cx="60.73" cy="152.80" r="1.2"/><circle cx="63.65" cy="159.60" r="1.2"/><circle cx="66.58" cy="156.80" r="1.2"/><circle cx="69.50" cy="156.80" r="1.2"/><circle cx="72.42" cy="155.30" r="1.2"/><circle cx="75.34" cy="155.80" r="1.2"/><circle cx="78.26" cy="146.40" r="1.2"/><circle cx="81.18" cy="157.00" r="1.2"/><circle cx="84.10" cy="149.90" r="1.2"/><circle cx="87.02" cy="169.20" r="1.2"/><circle cx="89.94" cy="162.60" r="1.2"/><circle cx="92.86" cy="155.30" r="1.2"/><circle cx="95.79" cy="167.30" r="1.2"/><circle cx="98.71" cy="155.30" r="1.2"/><circle cx="101.63" cy="159.40" r="1.2"/><circle cx="104.55" cy="150.80" r="1.2"/><circle cx="107.47" cy="151.60" r="1.2"/><circle cx="110.39" cy="165.70" r="1.2"/><circle cx="113.31" cy="167.80" r="1.2"/><circle cx="116.23" cy="156.40" r="1.2"/><circle cx="119.15" cy="153.00" r="1.2"/><circle cx="122.07" cy="149.40" r="1.2"/><circle cx="125.00" cy="155.00" r="1.2"/><circle cx="127.92" cy="153.40" r="1.2"/><circle cx="130.84" cy="153.20" r="1.2"/><circle cx="133.76" cy="153.80" r="1.2"/><circle cx="136.68" cy="151.80" r="1.2"/><circle cx="139.60" cy="147.50" r="1.2"/><circle cx="142.52" cy="147.50" r="1.2"/><circle cx="145.44" cy="145.70" r="1.2"/><circle cx="148.36" cy="145.20" r="1.2"/><circle cx="151.28" cy="141.40" r="1.2"/><circle cx="154.21" cy="140.70" r="1.2"/><circle cx="157.13" cy="138.30" r="1.2"/><circle cx="160.05" cy="137.70" r="1.2"/><circle cx="162.97" cy="138.70" r="1.2"/><circle cx="165.89" cy="142.50" r="1.2"/><circle cx="168.81" cy="142.50" r="1.2"/><circle cx="171.73" cy="142.80" r="1.2"/><circle cx="174.65" cy="142.80" r="1.2"/><circle cx="177.57" cy="140.70" r="1.2"/><circle cx="180.50" cy="140.00" r="1.2"/><circle cx="183.42" cy="138.70" r="1.2"/><circle cx="186.34" cy="139.00" r="1.2"/><circle cx="189.26" cy="143.30" r="1.2"/><circle cx="192.18" cy="139.90" r="1.2"/><circle cx="195.10" cy="135.50" r="1.2"/><circle cx="198.02" cy="136.20" r="1.2"/><circle cx="200.94" cy="141.80" r="1.2"/><circle cx="203.86" cy="138.40" r="1.2"/><circle cx="206.78" cy="136.00" r="1.2"/><circle cx="209.70" cy="138.20" r="1.2"/><circle cx="212.63" cy="145.20" r="1.2"/><circle cx="215.55" cy="145.80" r="1.2"/><circle cx="218.47" cy="146.10" r="1.2"/><circle cx="221.39" cy="147.70" r="1.2"/><circle cx="224.31" cy="150.10" r="1.2"/><circle cx="227.23" cy="155.10" r="1.2"/><circle cx="230.15" cy="160.00" r="1.2"/><circle cx="233.07" cy="159.70" r="1.2"/><circle cx="235.99" cy="154.00" r="1.2"/><circle cx="238.91" cy="153.80" r="1.2"/><circle cx="241.84" cy="153.50" r="1.2"/><circle cx="244.76" cy="159.10" r="1.2"/><circle cx="247.68" cy="159.80" r="1.2"/><circle cx="250.60" cy="158.30" r="1.2"/><circle cx="253.52" cy="161.80" r="1.2"/><circle cx="256.44" cy="160.00" r="1.2"/><circle cx="259.36" cy="160.90" r="1.2"/><circle cx="262.28" cy="157.70" r="1.2"/><circle cx="265.20" cy="157.20" r="1.2"/><circle cx="268.12" cy="159.80" r="1.2"/><circle cx="271.05" cy="158.40" r="1.2"/><circle cx="273.97" cy="161.20" r="1.2"/><circle cx="276.89" cy="160.50" r="1.2"/><circle cx="279.81" cy="156.30" r="1.2"/><circle cx="282.73" cy="155.60" r="1.2"/><circle cx="285.65" cy="155.60" r="1.2"/><circle cx="288.57" cy="152.60" r="1.2"/><circle cx="291.49" cy="151.20" r="1.2"/><circle cx="294.41" cy="153.10" r="1.2"/><circle cx="297.33" cy="154.20" r="1.2"/><circle cx="300.26" cy="158.10" r="1.2"/><circle cx="303.18" cy="158.90" r="1.2"/><circle cx="306.10" cy="160.80" r="1.2"/><circle cx="309.02" cy="159.60" r="1.2"/><circle cx="311.94" cy="161.20" r="1.2"/><circle cx="314.86" cy="160.90" r="1.2"/><circle cx="317.78" cy="160.10" r="1.2"/><circle cx="320.70" cy="159.30" r="1.2"/><circle cx="323.62" cy="159.70" r="1.2"/><circle cx="326.55" cy="160.70" r="1.2"/><circle cx="329.47" cy="160.10" r="1.2"/><circle cx="49.05" cy="258.10" r="1.2"/><circle cx="51.97" cy="242.10" r="1.2"/><circle cx="54.89" cy="248.70" r="1.2"/><circle cx="57.81" cy="256.80" r="1.2"/><circle cx="60.73" cy="259.90" r="1.2"/><circle cx="63.65" cy="263.40" r="1.2"/><circle cx="66.58" cy="256.10" r="1.2"/><circle cx="69.50" cy="254.50" r="1.2"/><circle cx="72.42" cy="265.20" r="1.2"/><circle cx="75.34" cy="268.00" r="1.2"/><circle cx="78.26" cy="267.70" r="1.2"/><circle cx="81.18" cy="261.70" r="1.2"/><circle cx="84.10" cy="271.30" r="1.2"/><circle cx="87.02" cy="269.20" r="1.2"/><circle cx="89.94" cy="259.90" r="1.2"/><circle cx="92.86" cy="274.10" r="1.2"/><circle cx="95.79" cy="265.20" r="1.2"/><circle cx="98.71" cy="263.40" r="1.2"/><circle cx="101.63" cy="262.90" r="1.2"/><circle cx="104.55" cy="265.90" r="1.2"/><circle cx="107.47" cy="263.40" r="1.2"/><circle cx="110.39" cy="267.10" r="1.2"/><circle cx="113.31" cy="267.10" r="1.2"/><circle cx="116.23" cy="259.50" r="1.2"/><circle cx="119.15" cy="242.00" r="1.2"/><circle cx="122.07" cy="231.20" r="1.2"/><circle cx="125.00" cy="231.40" r="1.2"/><circle cx="127.92" cy="249.90" r="1.2"/><circle cx="130.84" cy="235.20" r="1.2"/><circle cx="133.76" cy="237.40" r="1.2"/><circle cx="136.68" cy="243.30" r="1.2"/><circle cx="139.60" cy="241.70" r="1.2"/><circle cx="142.52" cy="246.80" r="1.2"/><circle cx="145.44" cy="253.10" r="1.2"/><circle cx="148.36" cy="255.60" r="1.2"/><circle cx="151.28" cy="256.90" r="1.2"/><circle cx="154.21" cy="260.00" r="1.2"/><circle cx="157.13" cy="260.00" r="1.2"/><circle cx="160.05" cy="261.30" r="1.2"/><circle cx="162.97" cy="263.00" r="1.2"/><circle cx="165.89" cy="263.50" r="1.2"/><circle cx="168.81" cy="261.50" r="1.2"/><circle cx="171.73" cy="265.60" r="1.2"/><circle cx="174.65" cy="266.40" r="1.2"/><circle cx="177.57" cy="267.50" r="1.2"/><circle cx="180.50" cy="269.20" r="1.2"/><circle cx="183.42" cy="269.60" r="1.2"/><circle cx="186.34" cy="271.60" r="1.2"/><circle cx="189.26" cy="266.80" r="1.2"/><circle cx="192.18" cy="269.60" r="1.2"/><circle cx="195.10" cy="270.90" r="1.2"/><circle cx="198.02" cy="271.70" r="1.2"/><circle cx="200.94" cy="270.40" r="1.2"/><circle cx="203.86" cy="271.90" r="1.2"/><circle cx="206.78" cy="268.90" r="1.2"/><circle cx="209.70" cy="269.10" r="1.2"/><circle cx="212.63" cy="268.40" r="1.2"/><circle cx="215.55" cy="267.80" r="1.2"/><circle cx="218.47" cy="264.50" r="1.2"/><circle cx="221.39" cy="264.80" r="1.2"/><circle cx="224.31" cy="261.80" r="1.2"/><circle cx="227.23" cy="263.40" r="1.2"/><circle cx="230.15" cy="266.90" r="1.2"/><circle cx="233.07" cy="269.40" r="1.2"/><circle cx="235.99" cy="267.20" r="1.2"/><circle cx="238.91" cy="269.60" r="1.2"/><circle cx="241.84" cy="270.70" r="1.2"/><circle cx="244.76" cy="268.40" r="1.2"/><circle cx="247.68" cy="269.60" r="1.2"/><circle cx="250.60" cy="267.30" r="1.2"/><circle cx="253.52" cy="258.20" r="1.2"/><circle cx="256.44" cy="262.00" r="1.2"/><circle cx="259.36" cy="257.70" r="1.2"/><circle cx="262.28" cy="259.60" r="1.2"/><circle cx="265.20" cy="257.90" r="1.2"/><circle cx="268.12" cy="261.20" r="1.2"/><circle cx="271.05" cy="261.20" r="1.2"/><circle cx="273.97" cy="266.70" r="1.2"/><circle cx="276.89" cy="265.20" r="1.2"/><circle cx="279.81" cy="261.60" r="1.2"/><circle cx="282.73" cy="261.60" r="1.2"/><circle cx="285.65" cy="262.90" r="1.2"/><circle cx="288.57" cy="264.40" r="1.2"/><circle cx="291.49" cy="261.40" r="1.2"/><circle cx="294.41" cy="263.90" r="1.2"/><circle cx="297.33" cy="264.30" r="1.2"/><circle cx="300.26" cy="261.40" r="1.2"/><circle cx="303.18" cy="264.30" r="1.2"/><circle cx="306.10" cy="262.80" r="1.2"/><circle cx="309.02" cy="262.80" r="1.2"/><circle cx="311.94" cy="263.30" r="1.2"/><circle cx="314.86" cy="263.00" r="1.2"/><circle cx="317.78" cy="263.00" r="1.2"/><circle cx="320.70" cy="264.50" r="1.2"/><circle cx="323.62" cy="264.90" r="1.2"/><circle cx="326.55" cy="263.40" r="1.2"/><circle cx="329.47" cy="262.10" r="1.2"/><circle cx="49.05" cy="369.50" r="1.2"/><circle cx="51.97" cy="377.20" r="1.2"/><circle cx="54.89" cy="376.90" r="1.2"/><circle cx="57.81" cy="363.30" r="1.2"/><circle cx="60.73" cy="365.80" r="1.2"/><circle cx="63.65" cy="369.20" r="1.2"/><circle cx="66.58" cy="371.60" r="1.2"/><circle cx="69.50" cy="365.40" r="1.2"/><circle cx="72.42" cy="373.90" r="1.2"/><circle cx="75.34" cy="371.40" r="1.2"/><circle cx="78.26" cy="351.80" r="1.2"/><circle cx="81.18" cy="349.30" r="1.2"/><circle cx="84.10" cy="365.80" r="1.2"/><circle cx="87.02" cy="344.10" r="1.2"/><circle cx="89.94" cy="350.80" r="1.2"/><circle cx="92.86" cy="373.50" r="1.2"/><circle cx="95.79" cy="369.80" r="1.2"/><circle cx="98.71" cy="381.00" r="1.2"/><circle cx="101.63" cy="363.50" r="1.2"/><circle cx="104.55" cy="366.40" r="1.2"/><circle cx="107.47" cy="364.70" r="1.2"/><circle cx="110.39" cy="368.50" r="1.2"/><circle cx="113.31" cy="370.70" r="1.2"/><circle cx="116.23" cy="364.70" r="1.2"/><circle cx="119.15" cy="342.10" r="1.2"/><circle cx="122.07" cy="333.00" r="1.2"/><circle cx="125.00" cy="330.00" r="1.2"/><circle cx="127.92" cy="354.60" r="1.2"/><circle cx="130.84" cy="337.00" r="1.2"/><circle cx="133.76" cy="333.30" r="1.2"/><circle cx="136.68" cy="330.50" r="1.2"/><circle cx="139.60" cy="332.60" r="1.2"/><circle cx="142.52" cy="331.00" r="1.2"/><circle cx="145.44" cy="330.80" r="1.2"/><circle cx="148.36" cy="331.40" r="1.2"/><circle cx="151.28" cy="332.50" r="1.2"/><circle cx="154.21" cy="333.40" r="1.2"/><circle cx="157.13" cy="335.80" r="1.2"/><circle cx="160.05" cy="336.60" r="1.2"/><circle cx="162.97" cy="337.00" r="1.2"/><circle cx="165.89" cy="335.40" r="1.2"/><circle cx="168.81" cy="336.60" r="1.2"/><circle cx="171.73" cy="338.00" r="1.2"/><circle cx="174.65" cy="338.80" r="1.2"/><circle cx="177.57" cy="341.40" r="1.2"/><circle cx="180.50" cy="343.40" r="1.2"/><circle cx="183.42" cy="345.80" r="1.2"/><circle cx="186.34" cy="346.30" r="1.2"/><circle cx="189.26" cy="341.30" r="1.2"/><circle cx="192.18" cy="348.10" r="1.2"/><circle cx="195.10" cy="362.90" r="1.2"/><circle cx="198.02" cy="360.80" r="1.2"/><circle cx="200.94" cy="351.80" r="1.2"/><circle cx="203.86" cy="355.00" r="1.2"/><circle cx="206.78" cy="360.10" r="1.2"/><circle cx="209.70" cy="367.40" r="1.2"/><circle cx="212.63" cy="373.50" r="1.2"/><circle cx="215.55" cy="369.50" r="1.2"/><circle cx="218.47" cy="367.60" r="1.2"/><circle cx="221.39" cy="367.60" r="1.2"/><circle cx="224.31" cy="366.90" r="1.2"/><circle cx="227.23" cy="367.20" r="1.2"/><circle cx="230.15" cy="370.70" r="1.2"/><circle cx="233.07" cy="370.40" r="1.2"/><circle cx="235.99" cy="368.90" r="1.2"/><circle cx="238.91" cy="370.70" r="1.2"/><circle cx="241.84" cy="370.70" r="1.2"/><circle cx="244.76" cy="366.00" r="1.2"/><circle cx="247.68" cy="365.10" r="1.2"/><circle cx="250.60" cy="356.70" r="1.2"/><circle cx="253.52" cy="353.90" r="1.2"/><circle cx="256.44" cy="355.20" r="1.2"/><circle cx="259.36" cy="358.20" r="1.2"/><circle cx="262.28" cy="362.30" r="1.2"/><circle cx="265.20" cy="365.80" r="1.2"/><circle cx="268.12" cy="361.90" r="1.2"/><circle cx="271.05" cy="362.80" r="1.2"/><circle cx="273.97" cy="363.80" r="1.2"/><circle cx="276.89" cy="366.50" r="1.2"/><circle cx="279.81" cy="364.00" r="1.2"/><circle cx="282.73" cy="361.10" r="1.2"/><circle cx="285.65" cy="361.10" r="1.2"/><circle cx="288.57" cy="362.80" r="1.2"/><circle cx="291.49" cy="363.50" r="1.2"/><circle cx="294.41" cy="360.50" r="1.2"/><circle cx="297.33" cy="358.80" r="1.2"/><circle cx="300.26" cy="363.50" r="1.2"/><circle cx="303.18" cy="364.70" r="1.2"/><circle cx="306.10" cy="365.40" r="1.2"/><circle cx="309.02" cy="362.20" r="1.2"/><circle cx="311.94" cy="364.10" r="1.2"/><circle cx="314.86" cy="361.90" r="1.2"/><circle cx="317.78" cy="360.90" r="1.2"/><circle cx="320.70" cy="361.10" r="1.2"/><circle cx="323.62" cy="361.40" r="1.2"/><circle cx="326.55" cy="360.90" r="1.2"/><circle cx="329.47" cy="360.50" r="1.2"/></g>
<g fill="#000"><circle cx="352.55" cy="87.40" r="1.2"/><circle cx="355.47" cy="60.60" r="1.2"/><circle cx="358.39" cy="65.70" r="1.2"/><circle cx="361.31" cy="83.80" r="1.2"/><circle cx="364.23" cy="88.50" r="1.2"/><circle cx="367.15" cy="89.20" r="1.2"/><circle cx="370.08" cy="82.10" r="1.2"/><circle cx="373.00" cy="91.40" r="1.2"/><circle cx="375.92" cy="85.50" r="1.2"/><circle cx="378.84" cy="82.10" r="1.2"/><circle cx="381.76" cy="72.00" r="1.2"/><circle cx="384.68" cy="74.70" r="1.2"/><circle cx="387.60" cy="69.10" r="1.2"/><circle cx="390.52" cy="58.60" r="1.2"/><circle cx="393.44" cy="72.70" r="1.2"/><circle cx="396.37" cy="70.20" r="1.2"/><circle cx="399.29" cy="74.20" r="1.2"/><circle cx="402.21" cy="61.40" r="1.2"/><circle cx="405.13" cy="80.50" r="1.2"/><circle cx="408.05" cy="85.50" r="1.2"/><circle cx="410.97" cy="89.60" r="1.2"/><circle cx="413.89" cy="79.40" r="1.2"/><circle cx="416.81" cy="78.20" r="1.2"/><circle cx="419.73" cy="77.00" r="1.2"/><circle cx="422.65" cy="41.50" r="1.2"/><circle cx="425.57" cy="26.20" r="1.2"/><circle cx="428.50" cy="25.50" r="1.2"/><circle cx="431.42" cy="71.80" r="1.2"/><circle cx="434.34" cy="38.00" r="1.2"/><circle cx="437.26" cy="36.60" r="1.2"/><circle cx="440.18" cy="37.20" r="1.2"/><circle cx="443.10" cy="38.00" r="1.2"/><circle cx="446.02" cy="39.30" r="1.2"/><circle cx="448.94" cy="41.30" r="1.2"/><circle cx="451.86" cy="42.50" r="1.2"/><circle cx="454.78" cy="42.90" r="1.2"/><circle cx="457.71" cy="43.50" r="1.2"/><circle cx="460.63" cy="44.80" r="1.2"/><circle cx="463.55" cy="45.70" r="1.2"/><circle cx="466.47" cy="46.70" r="1.2"/><circle cx="469.39" cy="48.40" r="1.2"/><circle cx="472.31" cy="49.80" r="1.2"/><circle cx="475.23" cy="51.50" r="1.2"/><circle cx="478.15" cy="52.60" r="1.2"/><circle cx="481.07" cy="54.30" r="1.2"/><circle cx="484.00" cy="55.00" r="1.2"/><circle cx="486.92" cy="56.80" r="1.2"/><circle cx="489.84" cy="56.80" r="1.2"/><circle cx="492.76" cy="56.70" r="1.2"/><circle cx="495.68" cy="58.10" r="1.2"/><circle cx="498.60" cy="62.80" r="1.2"/><circle cx="501.52" cy="61.40" r="1.2"/><circle cx="504.44" cy="65.90" r="1.2"/><circle cx="507.36" cy="63.40" r="1.2"/><circle cx="510.28" cy="65.30" r="1.2"/><circle cx="513.20" cy="68.60" r="1.2"/><circle cx="516.13" cy="75.90" r="1.2"/><circle cx="519.05" cy="80.10" r="1.2"/><circle cx="521.97" cy="83.70" r="1.2"/><circle cx="524.89" cy="86.30" r="1.2"/><circle cx="527.81" cy="91.00" r="1.2"/><circle cx="530.73" cy="96.50" r="1.2"/><circle cx="533.65" cy="88.90" r="1.2"/><circle cx="536.57" cy="86.60" r="1.2"/><circle cx="539.49" cy="89.80" r="1.2"/><circle cx="542.41" cy="86.10" r="1.2"/><circle cx="545.34" cy="84.40" r="1.2"/><circle cx="548.26" cy="87.50" r="1.2"/><circle cx="551.18" cy="88.00" r="1.2"/><circle cx="554.10" cy="86.00" r="1.2"/><circle cx="557.02" cy="83.80" r="1.2"/><circle cx="559.94" cy="87.20" r="1.2"/><circle cx="562.86" cy="89.90" r="1.2"/><circle cx="565.78" cy="95.10" r="1.2"/><circle cx="568.70" cy="94.80" r="1.2"/><circle cx="571.62" cy="93.40" r="1.2"/><circle cx="574.55" cy="97.00" r="1.2"/><circle cx="577.47" cy="91.20" r="1.2"/><circle cx="580.39" cy="94.60" r="1.2"/><circle cx="583.31" cy="100.20" r="1.2"/><circle cx="586.23" cy="98.10" r="1.2"/><circle cx="589.15" cy="96.80" r="1.2"/><circle cx="592.07" cy="94.10" r="1.2"/><circle cx="594.99" cy="94.50" r="1.2"/><circle cx="597.91" cy="92.90" r="1.2"/><circle cx="600.84" cy="92.20" r="1.2"/><circle cx="603.76" cy="98.40" r="1.2"/><circle cx="606.68" cy="97.60" r="1.2"/><circle cx="609.60" cy="97.60" r="1.2"/><circle cx="612.52" cy="98.40" r="1.2"/><circle cx="615.44" cy="96.80" r="1.2"/><circle cx="618.36" cy="96.70" r="1.2"/><circle cx="621.28" cy="96.20" r="1.2"/><circle cx="624.20" cy="95.70" r="1.2"/><circle cx="627.12" cy="95.20" r="1.2"/><circle cx="630.05" cy="95.70" r="1.2"/><circle cx="632.97" cy="96.50" r="1.2"/><circle cx="352.55" cy="151.20" r="1.2"/><circle cx="355.47" cy="162.40" r="1.2"/><circle cx="358.39" cy="169.70" r="1.2"/><circle cx="361.31" cy="155.80" r="1.2"/><circle cx="364.23" cy="152.80" r="1.2"/><circle cx="367.15" cy="159.60" r="1.2"/><circle cx="370.08" cy="156.80" r="1.2"/><circle cx="373.00" cy="156.80" r="1.2"/><circle cx="375.92" cy="155.30" r="1.2"/><circle cx="378.84" cy="155.80" r="1.2"/><circle cx="381.76" cy="146.40" r="1.2"/><circle cx="384.68" cy="157.00" r="1.2"/><circle cx="387.60" cy="149.90" r="1.2"/><circle cx="390.52" cy="169.20" r="1.2"/><circle cx="393.44" cy="162.60" r="1.2"/><circle cx="396.37" cy="155.30" r="1.2"/><circle cx="399.29" cy="167.30" r="1.2"/><circle cx="402.21" cy="155.30" r="1.2"/><circle cx="405.13" cy="159.40" r="1.2"/><circle cx="408.05" cy="150.80" r="1.2"/><circle cx="410.97" cy="151.60" r="1.2"/><circle cx="413.89" cy="165.70" r="1.2"/><circle cx="416.81" cy="167.80" r="1.2"/><circle cx="419.73" cy="156.40" r="1.2"/><circle cx="422.65" cy="153.00" r="1.2"/><circle cx="425.57" cy="149.40" r="1.2"/><circle cx="428.50" cy="155.00" r="1.2"/><circle cx="431.42" cy="153.40" r="1.2"/><circle cx="434.34" cy="153.20" r="1.2"/><circle cx="437.26" cy="153.80" r="1.2"/><circle cx="440.18" cy="151.80" r="1.2"/><circle cx="443.10" cy="147.50" r="1.2"/><circle cx="446.02" cy="147.50" r="1.2"/><circle cx="448.94" cy="145.70" r="1.2"/><circle cx="451.86" cy="145.20" r="1.2"/><circle cx="454.78" cy="141.40" r="1.2"/><circle cx="457.71" cy="140.70" r="1.2"/><circle cx="460.63" cy="138.30" r="1.2"/><circle cx="463.55" cy="137.70" r="1.2"/><circle cx="466.47" cy="138.70" r="1.2"/><circle cx="469.39" cy="142.50" r="1.2"/><circle cx="472.31" cy="142.50" r="1.2"/><circle cx="475.23" cy="142.80" r="1.2"/><circle cx="478.15" cy="142.80" r="1.2"/><circle cx="481.07" cy="140.70" r="1.2"/><circle cx="484.00" cy="140.00" r="1.2"/><circle cx="486.92" cy="138.70" r="1.2"/><circle cx="489.84" cy="139.00" r="1.2"/><circle cx="492.76" cy="143.30" r="1.2"/><circle cx="495.68" cy="139.90" r="1.2"/><circle cx="498.60" cy="135.50" r="1.2"/><circle cx="501.52" cy="136.20" r="1.2"/><circle cx="504.44" cy="141.80" r="1.2"/><circle cx="507.36" cy="138.40" r="1.2"/><circle cx="510.28" cy="136.00" r="1.2"/><circle cx="513.20" cy="138.20" r="1.2"/><circle cx="516.13" cy="145.20" r="1.2"/><circle cx="519.05" cy="145.80" r="1.2"/><circle cx="521.97" cy="146.10" r="1.2"/><circle cx="524.89" cy="147.70" r="1.2"/><circle cx="527.81" cy="150.10" r="1.2"/><circle cx="530.73" cy="155.10" r="1.2"/><circle cx="533.65" cy="160.00" r="1.2"/><circle cx="536.57" cy="159.70" r="1.2"/><circle cx="539.49" cy="154.00" r="1.2"/><circle cx="542.41" cy="153.80" r="1.2"/><circle cx="545.34" cy="153.50" r="1.2"/><circle cx="548.26" cy="159.10" r="1.2"/><circle cx="551.18" cy="159.80" r="1.2"/><circle cx="554.10" cy="158.30" r="1.2"/><circle cx="557.02" cy="161.80" r="1.2"/><circle cx="559.94" cy="160.00" r="1.2"/><circle cx="562.86" cy="160.90" r="1.2"/><circle cx="565.78" cy="157.70" r="1.2"/><circle cx="568.70" cy="157.20" r="1.2"/><circle cx="571.62" cy="159.80" r="1.2"/><circle cx="574.55" cy="158.40" r="1.2"/><circle cx="577.47" cy="161.20" r="1.2"/><circle cx="580.39" cy="160.50" r="1.2"/><circle cx="583.31" cy="156.30" r="1.2"/><circle cx="586.23" cy="155.60" r="1.2"/><circle cx="589.15" cy="155.60" r="1.2"/><circle cx="592.07" cy="152.60" r="1.2"/><circle cx="594.99" cy="151.20" r="1.2"/><circle cx="597.91" cy="153.10" r="1.2"/><circle cx="600.84" cy="154.20" r="1.2"/><circle cx="603.76" cy="158.10" r="1.2"/><circle cx="606.68" cy="158.90" r="1.2"/><circle cx="609.60" cy="160.80" r="1.2"/><circle cx="612.52" cy="159.60" r="1.2"/><circle cx="615.44" cy="161.20" r="1.2"/><circle cx="618.36" cy="160.90" r="1.2"/><circle cx="621.28" cy="160.10" r="1.2"/><circle cx="624.20" cy="159.30" r="1.2"/><circle cx="627.12" cy="159.70" r="1.2"/><circle cx="630.05" cy="160.70" r="1.2"/><circle cx="632.97" cy="160.10" r="1.2"/><circle cx="352.55" cy="258.10" r="1.2"/><circle cx="355.47" cy="242.10" r="1.2"/><circle cx="358.39" cy="248.70" r="1.2"/><circle cx="361.31" cy="256.80" r="1.2"/><circle cx="364.23" cy="259.90" r="1.2"/><circle cx="367.15" cy="263.40" r="1.2"/><circle cx="370.08" cy="256.10" r="1.2"/><circle cx="373.00" cy="254.50" r="1.2"/><circle cx="375.92" cy="265.20" r="1.2"/><circle cx="378.84" cy="268.00" r="1.2"/><circle cx="381.76" cy="267.70" r="1.2"/><circle cx="384.68" cy="261.70" r="1.2"/><circle cx="387.60" cy="271.30" r="1.2"/><circle cx="390.52" cy="269.20" r="1.2"/><circle cx="393.44" cy="259.90" r="1.2"/><circle cx="396.37" cy="274.10" r="1.2"/><circle cx="399.29" cy="265.20" r="1.2"/><circle cx="402.21" cy="263.40" r="1.2"/><circle cx="405.13" cy="262.90" r="1.2"/><circle cx="408.05" cy="265.90" r="1.2"/><circle cx="410.97" cy="263.40" r="1.2"/><circle cx="413.89" cy="267.10" r="1.2"/><circle cx="416.81" cy="267.10" r="1.2"/><circle cx="419.73" cy="259.50" r="1.2"/><circle cx="422.65" cy="242.00" r="1.2"/><circle cx="425.57" cy="231.20" r="1.2"/><circle cx="428.50" cy="231.40" r="1.2"/><circle cx="431.42" cy="249.90" r="1.2"/><circle cx="434.34" cy="235.20" r="1.2"/><circle cx="437.26" cy="237.40" r="1.2"/><circle cx="440.18" cy="243.30" r="1.2"/><circle cx="443.10" cy="241.70" r="1.2"/><circle cx="446.02" cy="246.80" r="1.2"/><circle cx="448.94" cy="253.10" r="1.2"/><circle cx="451.86" cy="255.60" r="1.2"/><circle cx="454.78" cy="256.90" r="1.2"/><circle cx="457.71" cy="260.00" r="1.2"/><circle cx="460.63" cy="260.00" r="1.2"/><circle cx="463.55" cy="261.30" r="1.2"/><circle cx="466.47" cy="263.00" r="1.2"/><circle cx="469.39" cy="263.50" r="1.2"/><circle cx="472.31" cy="261.50" r="1.2"/><circle cx="475.23" cy="265.60" r="1.2"/><circle cx="478.15" cy="266.40" r="1.2"/><circle cx="481.07" cy="267.50" r="1.2"/><circle cx="484.00" cy="269.20" r="1.2"/><circle cx="486.92" cy="269.60" r="1.2"/><circle cx="489.84" cy="271.60" r="1.2"/><circle cx="492.76" cy="266.80" r="1.2"/><circle cx="495.68" cy="269.60" r="1.2"/><circle cx="498.60" cy="270.90" r="1.2"/><circle cx="501.52" cy="271.70" r="1.2"/><circle cx="504.44" cy="270.40" r="1.2"/><circle cx="507.36" cy="271.90" r="1.2"/><circle cx="510.28" cy="268.90" r="1.2"/><circle cx="513.20" cy="269.10" r="1.2"/><circle cx="516.13" cy="268.40" r="1.2"/><circle cx="519.05" cy="267.80" r="1.2"/><circle cx="521.97" cy="264.50" r="1.2"/><circle cx="524.89" cy="264.80" r="1.2"/><circle cx="527.81" cy="261.80" r="1.2"/><circle cx="530.73" cy="263.40" r="1.2"/><circle cx="533.65" cy="266.90" r="1.2"/><circle cx="536.57" cy="269.40" r="1.2"/><circle cx="539.49" cy="267.20" r="1.2"/><circle cx="542.41" cy="269.60" r="1.2"/><circle cx="545.34" cy="270.70" r="1.2"/><circle cx="548.26" cy="268.40" r="1.2"/><circle cx="551.18" cy="269.60" r="1.2"/><circle cx="554.10" cy="267.30" r="1.2"/><circle cx="557.02" cy="258.20" r="1.2"/><circle cx="559.94" cy="262.00" r="1.2"/><circle cx="562.86" cy="257.70" r="1.2"/><circle cx="565.78" cy="259.60" r="1.2"/><circle cx="568.70" cy="257.90" r="1.2"/><circle cx="571.62" cy="261.20" r="1.2"/><circle cx="574.55" cy="261.20" r="1.2"/><circle cx="577.47" cy="266.70" r="1.2"/><circle cx="580.39" cy="265.20" r="1.2"/><circle cx="583.31" cy="261.60" r="1.2"/><circle cx="586.23" cy="261.60" r="1.2"/><circle cx="589.15" cy="262.90" r="1.2"/><circle cx="592.07" cy="264.40" r="1.2"/><circle cx="594.99" cy="261.40" r="1.2"/><circle cx="597.91" cy="263.90" r="1.2"/><circle cx="600.84" cy="264.30" r="1.2"/><circle cx="603.76" cy="261.40" r="1.2"/><circle cx="606.68" cy="264.30" r="1.2"/><circle cx="609.60" cy="262.80" r="1.2"/><circle cx="612.52" cy="262.80" r="1.2"/><circle cx="615.44" cy="263.30" r="1.2"/><circle cx="618.36" cy="263.00" r="1.2"/><circle cx="621.28" cy="263.00" r="1.2"/><circle cx="624.20" cy="264.50" r="1.2"/><circle cx="627.12" cy="264.90" r="1.2"/><circle cx="630.05" cy="263.40" r="1.2"/><circle cx="632.97" cy="262.10" r="1.2"/><circle cx="352.55" cy="369.50" r="1.2"/><circle cx="355.47" cy="377.20" r="1.2"/><circle cx="358.39" cy="376.90" r="1.2"/><circle cx="361.31" cy="363.30" r="1.2"/><circle cx="364.23" cy="365.80" r="1.2"/><circle cx="367.15" cy="369.20" r="1.2"/><circle cx="370.08" cy="371.60" r="1.2"/><circle cx="373.00" cy="365.40" r="1.2"/><circle cx="375.92" cy="373.90" r="1.2"/><circle cx="378.84" cy="371.40" r="1.2"/><circle cx="381.76" cy="351.80" r="1.2"/><circle cx="384.68" cy="349.30" r="1.2"/><circle cx="387.60" cy="365.80" r="1.2"/><circle cx="390.52" cy="344.10" r="1.2"/><circle cx="393.44" cy="350.80" r="1.2"/><circle cx="396.37" cy="373.50" r="1.2"/><circle cx="399.29" cy="369.80" r="1.2"/><circle cx="402.21" cy="381.00" r="1.2"/><circle cx="405.13" cy="363.50" r="1.2"/><circle cx="408.05" cy="366.40" r="1.2"/><circle cx="410.97" cy="364.70" r="1.2"/><circle cx="413.89" cy="368.50" r="1.2"/><circle cx="416.81" cy="370.70" r="1.2"/><circle cx="419.73" cy="364.70" r="1.2"/><circle cx="422.65" cy="342.10" r="1.2"/><circle cx="425.57" cy="333.00" r="1.2"/><circle cx="428.50" cy="330.00" r="1.2"/><circle cx="431.42" cy="354.60" r="1.2"/><circle cx="434.34" cy="337.00" r="1.2"/><circle cx="437.26" cy="333.30" r="1.2"/><circle cx="440.18" cy="330.50" r="1.2"/><circle cx="443.10" cy="332.60" r="1.2"/><circle cx="446.02" cy="331.00" r="1.2"/><circle cx="448.94" cy="330.80" r="1.2"/><circle cx="451.86" cy="331.40" r="1.2"/><circle cx="454.78" cy="332.50" r="1.2"/><circle cx="457.71" cy="333.40" r="1.2"/><circle cx="460.63" cy="335.80" r="1.2"/><circle cx="463.55" cy="336.60" r="1.2"/><circle cx="466.47" cy="337.00" r="1.2"/><circle cx="469.39" cy="335.40" r="1.2"/><circle cx="472.31" cy="336.60" r="1.2"/><circle cx="475.23" cy="338.00" r="1.2"/><circle cx="478.15" cy="338.80" r="1.2"/><circle cx="481.07" cy="341.40" r="1.2"/><circle cx="484.00" cy="343.40" r="1.2"/><circle cx="486.92" cy="345.80" r="1.2"/><circle cx="489.84" cy="346.30" r="1.2"/><circle cx="492.76" cy="341.30" r="1.2"/><circle cx="495.68" cy="348.10" r="1.2"/><circle cx="498.60" cy="362.90" r="1.2"/><circle cx="501.52" cy="360.80" r="1.2"/><circle cx="504.44" cy="351.80" r="1.2"/><circle cx="507.36" cy="355.00" r="1.2"/><circle cx="510.28" cy="360.10" r="1.2"/><circle cx="513.20" cy="367.40" r="1.2"/><circle cx="516.13" cy="373.50" r="1.2"/><circle cx="519.05" cy="369.50" r="1.2"/><circle cx="521.97" cy="367.60" r="1.2"/><circle cx="524.89" cy="367.60" r="1.2"/><circle cx="527.81" cy="366.90" r="1.2"/><circle cx="530.73" cy="367.20" r="1.2"/><circle cx="533.65" cy="370.70" r="1.2"/><circle cx="536.57" cy="370.40" r="1.2"/><circle cx="539.49" cy="368.90" r="1.2"/><circle cx="542.41" cy="370.70" r="1.2"/><circle cx="545.34" cy="370.70" r="1.2"/><circle cx="548.26" cy="366.00" r="1.2"/><circle cx="551.18" cy="365.10" r="1.2"/><circle cx="554.10" cy="356.70" r="1.2"/><circle cx="557.02" cy="353.90" r="1.2"/><circle cx="559.94" cy="355.20" r="1.2"/><circle cx="562.86" cy="358.20" r="1.2"/><circle cx="565.78" cy="362.30" r="1.2"/><circle cx="568.70" cy="365.80" r="1.2"/><circle cx="571.62" cy="361.90" r="1.2"/><circle cx="574.55" cy="362.80" r="1.2"/><circle cx="577.47" cy="363.80" r="1.2"/><circle cx="580.39" cy="366.50" r="1.2"/><circle cx="583.31" cy="364.00" r="1.2"/><circle cx="586.23" cy="361.10" r="1.2"/><circle cx="589.15" cy="361.10" r="1.2"/><circle cx="592.07" cy="362.80" r="1.2"/><circle cx="594.99" cy="363.50" r="1.2"/><circle cx="597.91" cy="360.50" r="1.2"/><circle cx="600.84" cy="358.80" r="1.2"/><circle cx="603.76" cy="363.50" r="1.2"/><circle cx="606.68" cy="364.70" r="1.2"/><circle cx="609.60" cy="365.40" r="1.2"/><circle cx="612.52" cy="362.20" r="1.2"/><circle cx="615.44" cy="364.10" r="1.2"/><circle cx="618.36" cy="361.90" r="1.2"/><circle cx="621.28" cy="360.90" r="1.2"/><circle cx="624.20" cy="361.10" r="1.2"/><circle cx="627.12" cy="361.40" r="1.2"/><circle cx="630.05" cy="360.90" r="1.2"/><circle cx="632.97" cy="360.50" r="1.2"/></g>
<path d="M120.50 27.00 C120.83 27.48 121.78 29.08 122.50 29.90 C123.22 30.72 123.67 31.15 124.80 31.90 C125.93 32.65 127.80 33.72 129.30 34.40 C130.80 35.08 132.02 35.47 133.80 36.00 C135.58 36.53 137.30 36.70 140.00 37.60 C142.70 38.50 146.67 39.75 150.00 41.40 C153.33 43.05 156.67 45.40 160.00 47.50 C163.33 49.60 166.67 51.87 170.00 54.00 C173.33 56.13 176.67 58.32 180.00 60.30 C183.33 62.28 186.67 64.12 190.00 65.90 C193.33 67.68 196.50 69.33 200.00 71.00 C203.50 72.67 207.17 74.30 211.00 75.90 C214.83 77.50 221.00 79.82 223.00 80.60" stroke="#0000ff" stroke-width="1.15" fill="none"/>
<path d="M120.80 122.50 C121.65 123.75 123.73 127.43 125.90 130.00 C128.07 132.57 131.17 135.73 133.80 137.90 C136.43 140.07 139.83 141.83 141.70 143.00 C143.57 144.17 143.53 144.20 145.00 144.90 C146.47 145.60 148.67 146.53 150.50 147.20 C152.33 147.87 154.17 148.40 156.00 148.90 C157.83 149.40 159.67 149.83 161.50 150.20 C163.33 150.57 165.17 150.83 167.00 151.10 C168.83 151.37 170.33 151.58 172.50 151.80 C174.67 152.02 177.28 152.22 180.00 152.40 C182.72 152.58 185.77 152.75 188.80 152.90 C191.83 153.05 195.05 153.18 198.20 153.30 C201.35 153.42 203.57 153.48 207.70 153.60 C211.83 153.72 220.45 153.93 223.00 154.00" stroke="#0000ff" stroke-width="1.15" fill="none"/>
<path d="M120.70 245.00 C121.57 246.27 123.72 249.95 125.90 252.60 C128.08 255.25 131.17 258.58 133.80 260.90 C136.43 263.22 139.07 264.98 141.70 266.50 C144.33 268.02 146.88 269.08 149.60 270.00 C152.32 270.92 154.75 271.47 158.00 272.00 C161.25 272.53 165.53 272.92 169.10 273.20 C172.67 273.48 176.12 273.63 179.40 273.70 C182.68 273.77 185.67 273.65 188.80 273.60 C191.93 273.55 195.05 273.53 198.20 273.40 C201.35 273.27 203.57 273.03 207.70 272.80 C211.83 272.57 220.45 272.13 223.00 272.00" stroke="#0000ff" stroke-width="1.15" fill="none"/>
<path d="M120.30 341.40 C120.73 340.65 121.90 338.27 122.90 336.90 C123.90 335.53 124.98 334.22 126.30 333.20 C127.62 332.18 128.93 331.42 130.80 330.80 C132.67 330.18 135.25 329.63 137.50 329.50 C139.75 329.37 142.03 329.62 144.30 330.00 C146.57 330.38 148.85 331.12 151.10 331.80 C153.35 332.48 155.55 333.28 157.80 334.10 C160.05 334.92 162.33 335.82 164.60 336.70 C166.87 337.58 169.48 338.62 171.40 339.40 C173.32 340.18 174.30 340.60 176.10 341.40 C177.90 342.20 180.17 343.30 182.20 344.20 C184.23 345.10 186.27 345.98 188.30 346.80 C190.33 347.62 192.37 348.35 194.40 349.10 C196.43 349.85 198.48 350.63 200.50 351.30 C202.52 351.97 204.48 352.55 206.50 353.10 C208.52 353.65 209.85 354.02 212.60 354.60 C215.35 355.18 221.27 356.27 223.00 356.60" stroke="#0000ff" stroke-width="1.15" fill="none"/>
<path d="M120.50 57.60 C121.60 57.80 124.98 58.63 127.10 58.80 C129.22 58.97 130.98 58.83 133.20 58.60 C135.42 58.37 138.02 57.82 140.40 57.40 C142.78 56.98 145.22 56.57 147.50 56.10 C149.78 55.63 151.85 55.02 154.10 54.60 C156.35 54.18 158.68 53.70 161.00 53.60 C163.32 53.50 165.60 53.83 168.00 54.00 C170.40 54.17 173.27 54.27 175.40 54.60 C177.53 54.93 178.70 55.43 180.80 56.00 C182.90 56.57 185.75 57.28 188.00 58.00 C190.25 58.72 192.13 59.67 194.30 60.30 C196.47 60.93 198.77 61.45 201.00 61.80 C203.23 62.15 205.47 62.60 207.70 62.40 C209.93 62.20 212.30 61.60 214.40 60.60 C216.50 59.60 219.32 57.10 220.30 56.40" stroke="#0000ff" stroke-width="1.2" fill="none" stroke-dasharray="6.30 7.20" stroke-dashoffset="0.00"/>
<path d="M120.80 137.50 C121.82 137.68 124.70 138.12 126.90 138.60 C129.10 139.08 131.92 139.92 134.00 140.40 C136.08 140.88 137.15 141.02 139.40 141.50 C141.65 141.98 145.15 142.88 147.50 143.30 C149.85 143.72 151.15 143.80 153.50 144.00 C155.85 144.20 159.17 144.40 161.60 144.50 C164.03 144.60 165.83 144.55 168.10 144.60 C170.37 144.65 172.92 144.83 175.20 144.80 C177.48 144.77 179.60 144.62 181.80 144.40 C184.00 144.18 186.20 143.80 188.40 143.50 C190.60 143.20 192.73 142.92 195.00 142.60 C197.27 142.28 199.73 142.00 202.00 141.60 C204.27 141.20 206.40 140.73 208.60 140.20 C210.80 139.67 212.97 139.08 215.20 138.40 C217.43 137.72 220.87 136.48 222.00 136.10" stroke="#0000ff" stroke-width="1.2" fill="none" stroke-dasharray="6.50 7.00" stroke-dashoffset="-0.80"/>
<path d="M120.60 244.60 C121.63 245.18 124.82 246.98 126.80 248.10 C128.78 249.22 130.52 250.20 132.50 251.30 C134.48 252.40 136.63 253.65 138.70 254.70 C140.77 255.75 142.83 256.65 144.90 257.60 C146.97 258.55 149.03 259.47 151.10 260.40 C153.17 261.33 155.23 262.32 157.30 263.20 C159.37 264.08 161.35 264.85 163.50 265.70 C165.65 266.55 168.10 267.52 170.20 268.30 C172.30 269.08 173.93 269.65 176.10 270.40 C178.27 271.15 180.92 272.15 183.20 272.80 C185.48 273.45 187.53 273.82 189.80 274.30 C192.07 274.78 194.60 275.27 196.80 275.70 C199.00 276.13 200.72 276.53 203.00 276.90 C205.28 277.27 208.23 277.55 210.50 277.90 C212.77 278.25 215.02 278.73 216.60 279.00 C218.18 279.27 219.43 279.42 220.00 279.50" stroke="#0000ff" stroke-width="1.2" fill="none" stroke-dasharray="6.40 7.10" stroke-dashoffset="-1.00"/>
<path d="M120.30 353.80 C121.30 353.23 124.37 351.55 126.30 350.40 C128.23 349.25 129.93 348.00 131.90 346.90 C133.87 345.80 135.93 344.75 138.10 343.80 C140.27 342.85 142.73 341.95 144.90 341.20 C147.07 340.45 148.85 339.77 151.10 339.30 C153.35 338.83 156.15 338.52 158.40 338.40 C160.65 338.28 162.33 338.37 164.60 338.60 C166.87 338.83 169.68 339.35 172.00 339.80 C174.32 340.25 176.30 340.65 178.50 341.30 C180.70 341.95 183.15 342.82 185.20 343.70 C187.25 344.58 188.85 345.55 190.80 346.60 C192.75 347.65 194.95 348.73 196.90 350.00 C198.85 351.27 200.63 352.78 202.50 354.20 C204.37 355.62 206.42 357.08 208.10 358.50 C209.78 359.92 211.00 361.18 212.60 362.70 C214.20 364.22 215.90 365.85 217.70 367.60 C219.50 369.35 222.45 372.27 223.40 373.20" stroke="#0000ff" stroke-width="1.2" fill="none" stroke-dasharray="6.40 7.10" stroke-dashoffset="0.00"/>
<path d="M424.30 39.00 C425.80 38.80 430.22 37.92 433.30 37.80 C436.38 37.68 439.78 37.73 442.80 38.30 C445.82 38.87 448.67 40.17 451.40 41.20 C454.13 42.23 456.43 43.38 459.20 44.50 C461.97 45.62 464.92 46.47 468.00 47.90 C471.08 49.33 474.45 51.37 477.70 53.10 C480.95 54.83 484.25 56.52 487.50 58.30 C490.75 60.08 493.97 62.03 497.20 63.80 C500.43 65.57 503.65 67.33 506.90 68.90 C510.15 70.47 513.35 71.90 516.70 73.20 C520.05 74.50 525.28 76.12 527.00 76.70" stroke="#d600ff" stroke-width="1.15" fill="none"/>
<path d="M424.20 132.30 C425.38 132.37 428.87 132.47 431.30 132.70 C433.73 132.93 436.28 133.33 438.80 133.70 C441.32 134.07 443.88 134.47 446.40 134.90 C448.92 135.33 451.40 135.78 453.90 136.30 C456.40 136.82 458.88 137.40 461.40 138.00 C463.92 138.60 466.48 139.28 469.00 139.90 C471.52 140.52 473.93 141.15 476.50 141.70 C479.07 142.25 481.52 142.72 484.40 143.20 C487.28 143.68 490.67 144.13 493.80 144.60 C496.93 145.07 500.05 145.53 503.20 146.00 C506.35 146.47 508.73 146.80 512.70 147.40 C516.67 148.00 524.62 149.23 527.00 149.60" stroke="#d600ff" stroke-width="1.15" fill="none"/>
<path d="M424.30 245.40 C425.28 245.87 428.20 247.20 430.20 248.20 C432.20 249.20 434.27 250.35 436.30 251.40 C438.33 252.45 440.37 253.55 442.40 254.50 C444.43 255.45 446.48 256.28 448.50 257.10 C450.52 257.92 452.48 258.68 454.50 259.40 C456.52 260.12 458.57 260.82 460.60 261.40 C462.63 261.98 464.67 262.40 466.70 262.90 C468.73 263.40 470.92 263.98 472.80 264.40 C474.68 264.82 476.07 264.98 478.00 265.40 C479.93 265.82 481.77 266.25 484.40 266.90 C487.03 267.55 490.67 268.63 493.80 269.30 C496.93 269.97 500.05 270.35 503.20 270.90 C506.35 271.45 508.82 272.03 512.70 272.60 C516.58 273.17 524.20 274.02 526.50 274.30" stroke="#d600ff" stroke-width="1.15" fill="none"/>
<path d="M424.10 340.80 C424.78 340.37 426.68 338.97 428.20 338.20 C429.72 337.43 431.52 336.73 433.20 336.20 C434.88 335.67 436.43 335.33 438.30 335.00 C440.17 334.67 442.37 334.37 444.40 334.20 C446.43 334.03 448.47 334.00 450.50 334.00 C452.53 334.00 454.57 333.97 456.60 334.20 C458.63 334.43 460.67 334.93 462.70 335.40 C464.73 335.87 466.75 336.50 468.80 337.00 C470.85 337.50 472.40 337.60 475.00 338.40 C477.60 339.20 481.27 340.68 484.40 341.80 C487.53 342.92 490.67 343.85 493.80 345.10 C496.93 346.35 500.05 347.82 503.20 349.30 C506.35 350.78 508.82 352.20 512.70 354.00 C516.58 355.80 524.20 359.08 526.50 360.10" stroke="#d600ff" stroke-width="1.15" fill="none"/>
<path d="M424.30 55.90 C425.28 55.57 428.03 54.50 430.20 53.90 C432.37 53.30 435.08 52.75 437.30 52.30 C439.52 51.85 441.22 51.52 443.50 51.20 C445.78 50.88 448.63 50.55 451.00 50.40 C453.37 50.25 455.42 50.23 457.70 50.30 C459.98 50.37 462.65 50.53 464.70 50.80 C466.75 51.07 467.83 51.42 470.00 51.90 C472.17 52.38 475.12 52.95 477.70 53.70 C480.28 54.45 482.95 55.28 485.50 56.40 C488.05 57.52 490.58 59.03 493.00 60.40 C495.42 61.77 497.67 63.27 500.00 64.60 C502.33 65.93 504.67 67.18 507.00 68.40 C509.33 69.62 511.58 70.98 514.00 71.90 C516.42 72.82 519.33 73.32 521.50 73.90 C523.67 74.48 526.08 75.15 527.00 75.40" stroke="#d600ff" stroke-width="1.2" fill="none" stroke-dasharray="6.40 7.10" stroke-dashoffset="0.00"/>
<path d="M424.20 141.50 C425.30 141.33 428.52 140.78 430.80 140.50 C433.08 140.22 435.62 140.00 437.90 139.80 C440.18 139.60 442.23 139.45 444.50 139.30 C446.77 139.15 449.23 138.93 451.50 138.90 C453.77 138.87 455.82 138.98 458.10 139.10 C460.38 139.22 463.08 139.35 465.20 139.60 C467.32 139.85 468.92 140.23 470.80 140.60 C472.68 140.97 474.23 141.37 476.50 141.80 C478.77 142.23 481.52 142.73 484.40 143.20 C487.28 143.67 490.67 144.13 493.80 144.60 C496.93 145.07 500.05 145.53 503.20 146.00 C506.35 146.47 508.73 146.80 512.70 147.40 C516.67 148.00 524.62 149.23 527.00 149.60" stroke="#d600ff" stroke-width="1.2" fill="none" stroke-dasharray="6.40 7.10" stroke-dashoffset="0.00"/>
<path d="M424.30 245.20 C425.37 245.62 428.53 246.90 430.70 247.70 C432.87 248.50 435.27 249.23 437.30 250.00 C439.33 250.77 440.70 251.50 442.90 252.30 C445.10 253.10 448.30 253.97 450.50 254.80 C452.70 255.63 454.18 256.47 456.10 257.30 C458.02 258.13 460.02 259.05 462.00 259.80 C463.98 260.55 466.00 261.17 468.00 261.80 C470.00 262.43 472.00 263.03 474.00 263.60 C476.00 264.17 477.83 264.63 480.00 265.20 C482.17 265.77 484.67 266.40 487.00 267.00 C489.33 267.60 491.67 268.23 494.00 268.80 C496.33 269.37 498.67 269.90 501.00 270.40 C503.33 270.90 505.43 271.28 508.00 271.80 C510.57 272.32 514.05 272.80 516.40 273.50 C518.75 274.20 521.15 275.58 522.10 276.00" stroke="#d600ff" stroke-width="1.2" fill="none" stroke-dasharray="6.40 7.10" stroke-dashoffset="0.00"/>
<path d="M424.10 346.70 C425.20 346.27 428.50 344.83 430.70 344.10 C432.90 343.37 435.18 342.85 437.30 342.30 C439.42 341.75 441.20 341.22 443.40 340.80 C445.60 340.38 448.22 340.13 450.50 339.80 C452.78 339.47 454.73 339.07 457.10 338.80 C459.47 338.53 462.33 338.23 464.70 338.20 C467.07 338.17 469.25 338.37 471.30 338.60 C473.35 338.83 474.82 338.95 477.00 339.60 C479.18 340.25 481.60 341.45 484.40 342.50 C487.20 343.55 490.67 344.65 493.80 345.90 C496.93 347.15 500.05 348.57 503.20 350.00 C506.35 351.43 508.82 352.78 512.70 354.50 C516.58 356.22 524.20 359.33 526.50 360.30" stroke="#d600ff" stroke-width="1.2" fill="none" stroke-dasharray="6.40 7.10" stroke-dashoffset="0.00"/>
<path d="M515.6 273.4L519.0 274.6L522.3 276.6" stroke="#d600ff" stroke-width="1.2" fill="none"/>
<text class="sf" x="56.10" y="20.90" font-size="14.6" fill="#111">a)</text>
<line x1="130.20" y1="19.4" x2="137.00" y2="19.4" stroke="#0000ff" stroke-width="1.3"/>
<text class="ss" x="150.40" y="23.5" font-size="11.8" fill="#0000ff" textLength="60.4" lengthAdjust="spacingAndGlyphs">CC model</text>
<text class="sf" x="233.30" y="31.80" font-size="12" fill="#111">V</text>
<text class="sf" x="241.70" y="35.00" font-size="8" fill="#111">exp</text>
<text class="sf" x="256.00" y="31.80" font-size="12" fill="#111" textLength="49.5" lengthAdjust="spacingAndGlyphs">=375 kms</text>
<text class="sf" x="307.00" y="25.70" font-size="7.6" fill="#111">&#8722;1</text>
<text class="sf" x="238.40" y="50.30" font-size="12" fill="#111">f</text>
<text class="sf" x="242.80" y="53.60" font-size="8" fill="#111">B</text>
<text class="sf" x="251.20" y="50.30" font-size="12" fill="#111">=1.75</text>
<g transform="translate(0.00 0.00)" fill="none" stroke="#111" stroke-linecap="round"><path d="M238.9 62.4C240.5 61.4 241.3 63.2 241.9 65.8S243.0 70.4 244.3 70.6" stroke-width="1.35"/><path d="M246.2 61.5L238.4 71.1" stroke-width="1.0"/></g>
<text class="sf" x="246.20" y="61.90" font-size="7.4" fill="#111">2</text>
<text class="sf" x="253.40" y="68.50" font-size="12" fill="#111">=0.2168</text>
<text class="ss tk" x="92.50" y="428.9" font-size="13.6" fill="#111" text-anchor="middle" textLength="30.4" lengthAdjust="spacingAndGlyphs">336.0</text>
<text class="ss tk" x="148.72" y="428.9" font-size="13.6" fill="#111" text-anchor="middle" textLength="30.4" lengthAdjust="spacingAndGlyphs">336.2</text>
<text class="ss tk" x="204.94" y="428.9" font-size="13.6" fill="#111" text-anchor="middle" textLength="30.4" lengthAdjust="spacingAndGlyphs">336.4</text>
<text class="ss tk" x="261.16" y="428.9" font-size="13.6" fill="#111" text-anchor="middle" textLength="30.4" lengthAdjust="spacingAndGlyphs">336.6</text>
<text class="ss tk" x="317.38" y="428.9" font-size="13.6" fill="#111" text-anchor="middle" textLength="30.4" lengthAdjust="spacingAndGlyphs">336.8</text>
<text class="sf" x="189.10" y="441.6" font-size="14" fill="#111" text-anchor="middle" textLength="107" lengthAdjust="spacingAndGlyphs">decimal DOY 2020</text>
<text class="sf" x="360.10" y="21.30" font-size="14.6" fill="#111">b)</text>
<line x1="437.80" y1="19.4" x2="444.60" y2="19.4" stroke="#d600ff" stroke-width="1.3"/>
<text class="ss" x="458.00" y="23.5" font-size="11.8" fill="#d600ff" textLength="59.6" lengthAdjust="spacingAndGlyphs">EC model</text>
<text class="sf" x="535.80" y="33.80" font-size="12" fill="#111">V</text>
<text class="sf" x="544.20" y="37.00" font-size="8" fill="#111">exp</text>
<text class="sf" x="559.10" y="33.80" font-size="12" fill="#111" textLength="48.7" lengthAdjust="spacingAndGlyphs">=125 kms</text>
<text class="sf" x="609.20" y="27.20" font-size="7.6" fill="#111">&#8722;1</text>
<text class="sf" x="541.90" y="53.00" font-size="12" fill="#111">f</text>
<text class="sf" x="546.30" y="56.30" font-size="8" fill="#111">B</text>
<text class="sf" x="554.70" y="53.00" font-size="12" fill="#111">=1.35</text>
<g transform="translate(303.50 2.70)" fill="none" stroke="#111" stroke-linecap="round"><path d="M238.9 62.4C240.5 61.4 241.3 63.2 241.9 65.8S243.0 70.4 244.3 70.6" stroke-width="1.35"/><path d="M246.2 61.5L238.4 71.1" stroke-width="1.0"/></g>
<text class="sf" x="549.70" y="64.60" font-size="7.4" fill="#111">2</text>
<text class="sf" x="556.90" y="71.20" font-size="12" fill="#111">=0.2006</text>
<text class="ss tk" x="396.00" y="428.9" font-size="13.6" fill="#111" text-anchor="middle" textLength="30.4" lengthAdjust="spacingAndGlyphs">336.0</text>
<text class="ss tk" x="452.22" y="428.9" font-size="13.6" fill="#111" text-anchor="middle" textLength="30.4" lengthAdjust="spacingAndGlyphs">336.2</text>
<text class="ss tk" x="508.44" y="428.9" font-size="13.6" fill="#111" text-anchor="middle" textLength="30.4" lengthAdjust="spacingAndGlyphs">336.4</text>
<text class="ss tk" x="564.66" y="428.9" font-size="13.6" fill="#111" text-anchor="middle" textLength="30.4" lengthAdjust="spacingAndGlyphs">336.6</text>
<text class="ss tk" x="620.88" y="428.9" font-size="13.6" fill="#111" text-anchor="middle" textLength="30.4" lengthAdjust="spacingAndGlyphs">336.8</text>
<text class="sf" x="492.60" y="441.6" font-size="14" fill="#111" text-anchor="middle" textLength="107" lengthAdjust="spacingAndGlyphs">decimal DOY 2020</text>
<g class="sf" fill="#111" font-size="13.8" transform="translate(18.00 69.60) rotate(-90)"><text x="0" y="0">B(nT)</text></g>
<g class="sf" fill="#111" font-size="14.0" transform="translate(10.90 175.40) rotate(-90)"><text x="0" y="0">B</text><text x="9.60" y="3.4" font-size="9">r</text><text x="11.00" y="0">(nT)</text></g>
<g class="sf" fill="#111" font-size="14.0" transform="translate(10.90 278.40) rotate(-90)"><text x="0" y="0">B</text><text x="9.20" y="3.4" font-size="9">t</text><text x="10.60" y="0">(nT)</text></g>
<g class="sf" fill="#111" font-size="14.0" transform="translate(10.90 382.40) rotate(-90)"><text x="0" y="0">B</text><text x="7.40" y="3.4" font-size="9">n</text><text x="11.00" y="0">(nT)</text></g>
</svg></body></html>
